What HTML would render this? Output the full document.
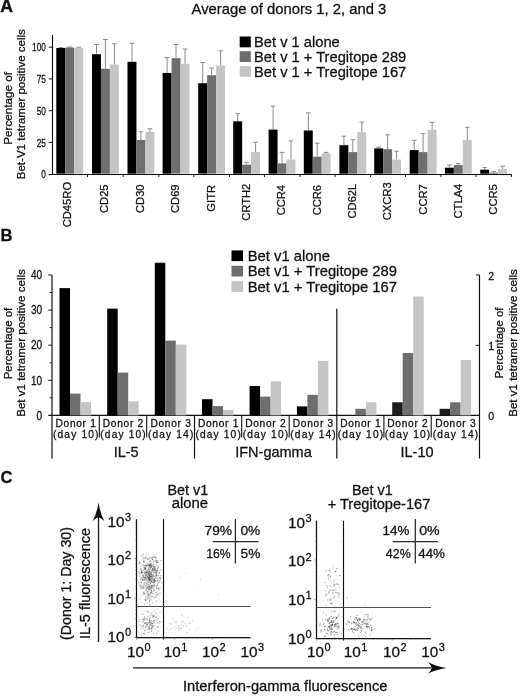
<!DOCTYPE html>
<html><head><meta charset="utf-8"><title>Figure</title>
<style>
html,body{margin:0;padding:0;background:#fff;}
body{width:520px;height:696px;overflow:hidden;font-family:"Liberation Sans",sans-serif;}
svg{display:block}
text{fill:#111;font-family:"Liberation Sans",sans-serif;stroke:#111;stroke-width:0.28px}
svg{will-change:transform;opacity:0.999}
</style></head><body>
<svg width="520" height="696" viewBox="0 0 520 696">
<rect width="520" height="696" fill="#fff"/>
<!-- Panel A -->
<text x="0.2" y="12.3"  font-size="17.6" font-weight="bold" stroke-width="0.1">A</text>
<text x="191.6" y="13.6"  font-size="14.8">Average of donors 1, 2, and 3</text>
<rect x="239.7" y="36.5" width="11.1" height="10.8" fill="#000000"/>
<text x="254" y="46.7"  font-size="14.7">Bet v 1 alone</text>
<rect x="239.7" y="51.2" width="11.1" height="10.8" fill="#6e6e6e"/>
<text x="254" y="61.9"  font-size="14.7">Bet v 1 + Tregitope 289</text>
<rect x="239.7" y="66.0" width="11.1" height="10.8" fill="#c5c5c5"/>
<text x="254" y="77.0"  font-size="14.7">Bet v 1 + Tregitope 167</text>
<line x1="52.5" y1="35" x2="52.5" y2="175.0" stroke="#111" stroke-width="1.15"/>
<line x1="48.6" y1="174.5" x2="511.5" y2="174.5" stroke="#111" stroke-width="1.05"/>
<line x1="48.8" y1="47.2" x2="52.5" y2="47.2" stroke="#111" stroke-width="1"/>
<text transform="translate(45.9,51.3) scale(0.72,1)" text-anchor="end"  font-size="11.5">100</text>
<line x1="48.8" y1="78.9" x2="52.5" y2="78.9" stroke="#111" stroke-width="1"/>
<text transform="translate(45.9,83.0) scale(0.72,1)" text-anchor="end"  font-size="11.5">75</text>
<line x1="48.8" y1="110.7" x2="52.5" y2="110.7" stroke="#111" stroke-width="1"/>
<text transform="translate(45.9,114.8) scale(0.72,1)" text-anchor="end"  font-size="11.5">50</text>
<line x1="48.8" y1="142.4" x2="52.5" y2="142.4" stroke="#111" stroke-width="1"/>
<text transform="translate(45.9,146.5) scale(0.72,1)" text-anchor="end"  font-size="11.5">25</text>
<text transform="translate(45.9,178.3) scale(0.72,1)" text-anchor="end"  font-size="11.5">0</text>
<text transform="translate(11.6,108.3) rotate(-90)" text-anchor="middle"  font-size="11.7">Percentage of</text>
<text transform="translate(25,104.2) rotate(-90)" text-anchor="middle"  font-size="11.55">Bet-V1 tetramer positive cells</text>
<path d="M60.8 48.0V47.6M58.5 47.6H63.1" stroke="#8a8a8a" stroke-width="1" fill="none"/>
<rect x="56.30" y="48.0" width="8.95" height="125.7" fill="#000000"/>
<path d="M69.7 47.5V47.0M67.4 47.0H72.0" stroke="#8a8a8a" stroke-width="1" fill="none"/>
<rect x="65.25" y="47.5" width="8.95" height="126.2" fill="#6e6e6e"/>
<path d="M78.7 47.8V47.2M76.4 47.2H81.0" stroke="#8a8a8a" stroke-width="1" fill="none"/>
<rect x="74.20" y="47.8" width="8.95" height="125.9" fill="#c5c5c5"/>
<line x1="87.5" y1="174.2" x2="87.5" y2="177" stroke="#111" stroke-width="1"/>
<text transform="translate(71.0,181.9) rotate(-90)" text-anchor="end"  font-size="11.2">CD45RO</text>
<path d="M96.5 54.2V44.5M94.2 44.5H98.8" stroke="#8a8a8a" stroke-width="1" fill="none"/>
<rect x="92.00" y="54.2" width="8.95" height="119.4" fill="#000000"/>
<path d="M105.4 68.8V39.5M103.1 39.5H107.7" stroke="#8a8a8a" stroke-width="1" fill="none"/>
<rect x="100.95" y="68.8" width="8.95" height="104.9" fill="#6e6e6e"/>
<path d="M114.4 64.5V43.8M112.1 43.8H116.7" stroke="#8a8a8a" stroke-width="1" fill="none"/>
<rect x="109.90" y="64.5" width="8.95" height="109.2" fill="#c5c5c5"/>
<line x1="123.2" y1="174.2" x2="123.2" y2="177" stroke="#111" stroke-width="1"/>
<text transform="translate(108.4,184.4) rotate(-90)" text-anchor="end"  font-size="11.2">CD25</text>
<path d="M132.0 61.8V43.2M129.7 43.2H134.3" stroke="#8a8a8a" stroke-width="1" fill="none"/>
<rect x="127.50" y="61.8" width="8.95" height="111.9" fill="#000000"/>
<path d="M140.9 140.0V131.8M138.6 131.8H143.2" stroke="#8a8a8a" stroke-width="1" fill="none"/>
<rect x="136.45" y="140.0" width="8.95" height="33.7" fill="#6e6e6e"/>
<path d="M149.9 132.0V128.8M147.6 128.8H152.2" stroke="#8a8a8a" stroke-width="1" fill="none"/>
<rect x="145.40" y="132.0" width="8.95" height="41.7" fill="#c5c5c5"/>
<line x1="158.8" y1="174.2" x2="158.8" y2="177" stroke="#111" stroke-width="1"/>
<text transform="translate(143.9,184.4) rotate(-90)" text-anchor="end"  font-size="11.2">CD30</text>
<path d="M167.1 73.0V57.5M164.8 57.5H169.4" stroke="#8a8a8a" stroke-width="1" fill="none"/>
<rect x="162.60" y="73.0" width="8.95" height="100.7" fill="#000000"/>
<path d="M176.0 58.2V44.5M173.7 44.5H178.3" stroke="#8a8a8a" stroke-width="1" fill="none"/>
<rect x="171.55" y="58.2" width="8.95" height="115.4" fill="#6e6e6e"/>
<path d="M185.0 63.8V49.0M182.7 49.0H187.3" stroke="#8a8a8a" stroke-width="1" fill="none"/>
<rect x="180.50" y="63.8" width="8.95" height="109.9" fill="#c5c5c5"/>
<line x1="193.8" y1="174.2" x2="193.8" y2="177" stroke="#111" stroke-width="1"/>
<text transform="translate(179.0,184.4) rotate(-90)" text-anchor="end"  font-size="11.2">CD69</text>
<path d="M202.7 83.2V62.5M200.4 62.5H205.0" stroke="#8a8a8a" stroke-width="1" fill="none"/>
<rect x="198.20" y="83.2" width="8.95" height="90.4" fill="#000000"/>
<path d="M211.6 75.2V68.0M209.3 68.0H213.9" stroke="#8a8a8a" stroke-width="1" fill="none"/>
<rect x="207.15" y="75.2" width="8.95" height="98.4" fill="#6e6e6e"/>
<path d="M220.6 65.5V50.8M218.3 50.8H222.9" stroke="#8a8a8a" stroke-width="1" fill="none"/>
<rect x="216.10" y="65.5" width="8.95" height="108.2" fill="#c5c5c5"/>
<line x1="229.4" y1="174.2" x2="229.4" y2="177" stroke="#111" stroke-width="1"/>
<text transform="translate(214.5,184.9) rotate(-90)" text-anchor="end"  font-size="11.2">GITR</text>
<path d="M237.7 121.3V113.6M235.4 113.6H240.0" stroke="#8a8a8a" stroke-width="1" fill="none"/>
<rect x="233.20" y="121.3" width="8.95" height="52.4" fill="#000000"/>
<path d="M246.6 164.7V162.3M244.3 162.3H248.9" stroke="#8a8a8a" stroke-width="1" fill="none"/>
<rect x="242.15" y="164.7" width="8.95" height="9.0" fill="#6e6e6e"/>
<path d="M255.6 152.1V142.3M253.3 142.3H257.9" stroke="#8a8a8a" stroke-width="1" fill="none"/>
<rect x="251.10" y="152.1" width="8.95" height="21.6" fill="#c5c5c5"/>
<line x1="264.4" y1="174.2" x2="264.4" y2="177" stroke="#111" stroke-width="1"/>
<text transform="translate(249.5,183.7) rotate(-90)" text-anchor="end"  font-size="11.2">CRTH2</text>
<path d="M273.1 129.6V106.2M270.8 106.2H275.4" stroke="#8a8a8a" stroke-width="1" fill="none"/>
<rect x="268.60" y="129.6" width="8.95" height="44.1" fill="#000000"/>
<path d="M282.0 163.4V152.4M279.7 152.4H284.3" stroke="#8a8a8a" stroke-width="1" fill="none"/>
<rect x="277.55" y="163.4" width="8.95" height="10.3" fill="#6e6e6e"/>
<path d="M291.0 159.6V140.9M288.7 140.9H293.3" stroke="#8a8a8a" stroke-width="1" fill="none"/>
<rect x="286.50" y="159.6" width="8.95" height="14.1" fill="#c5c5c5"/>
<line x1="299.9" y1="174.2" x2="299.9" y2="177" stroke="#111" stroke-width="1"/>
<text transform="translate(284.5,184.9) rotate(-90)" text-anchor="end"  font-size="11.2">CCR4</text>
<path d="M308.3 130.5V112.9M306.0 112.9H310.6" stroke="#8a8a8a" stroke-width="1" fill="none"/>
<rect x="303.80" y="130.5" width="8.95" height="43.2" fill="#000000"/>
<path d="M317.2 156.7V143.2M314.9 143.2H319.5" stroke="#8a8a8a" stroke-width="1" fill="none"/>
<rect x="312.75" y="156.7" width="8.95" height="17.0" fill="#6e6e6e"/>
<path d="M326.2 153.3V152.4M323.9 152.4H328.5" stroke="#8a8a8a" stroke-width="1" fill="none"/>
<rect x="321.70" y="153.3" width="8.95" height="20.4" fill="#c5c5c5"/>
<line x1="335.1" y1="174.2" x2="335.1" y2="177" stroke="#111" stroke-width="1"/>
<text transform="translate(320.6,184.9) rotate(-90)" text-anchor="end"  font-size="11.2">CCR6</text>
<path d="M343.9 145.2V136.2M341.6 136.2H346.2" stroke="#8a8a8a" stroke-width="1" fill="none"/>
<rect x="339.40" y="145.2" width="8.95" height="28.5" fill="#000000"/>
<path d="M352.8 152.1V139.7M350.5 139.7H355.1" stroke="#8a8a8a" stroke-width="1" fill="none"/>
<rect x="348.35" y="152.1" width="8.95" height="21.6" fill="#6e6e6e"/>
<path d="M361.8 132.2V122.1M359.5 122.1H364.1" stroke="#8a8a8a" stroke-width="1" fill="none"/>
<rect x="357.30" y="132.2" width="8.95" height="41.5" fill="#c5c5c5"/>
<line x1="370.6" y1="174.2" x2="370.6" y2="177" stroke="#111" stroke-width="1"/>
<text transform="translate(355.9,183.7) rotate(-90)" text-anchor="end"  font-size="11.2">CD62L</text>
<path d="M378.7 148.4V147.2M376.4 147.2H381.0" stroke="#8a8a8a" stroke-width="1" fill="none"/>
<rect x="374.20" y="148.4" width="8.95" height="25.3" fill="#000000"/>
<path d="M387.6 149.2V134.8M385.3 134.8H389.9" stroke="#8a8a8a" stroke-width="1" fill="none"/>
<rect x="383.15" y="149.2" width="8.95" height="24.5" fill="#6e6e6e"/>
<path d="M396.6 159.6V151.2M394.3 151.2H398.9" stroke="#8a8a8a" stroke-width="1" fill="none"/>
<rect x="392.10" y="159.6" width="8.95" height="14.1" fill="#c5c5c5"/>
<line x1="405.4" y1="174.2" x2="405.4" y2="177" stroke="#111" stroke-width="1"/>
<text transform="translate(391.1,182.4) rotate(-90)" text-anchor="end"  font-size="11.2">CXCR3</text>
<path d="M414.2 150.1V140.3M411.9 140.3H416.5" stroke="#8a8a8a" stroke-width="1" fill="none"/>
<rect x="409.70" y="150.1" width="8.95" height="23.6" fill="#000000"/>
<path d="M423.1 152.1V133.6M420.8 133.6H425.4" stroke="#8a8a8a" stroke-width="1" fill="none"/>
<rect x="418.65" y="152.1" width="8.95" height="21.6" fill="#6e6e6e"/>
<path d="M432.1 129.6V122.4M429.8 122.4H434.4" stroke="#8a8a8a" stroke-width="1" fill="none"/>
<rect x="427.60" y="129.6" width="8.95" height="44.1" fill="#c5c5c5"/>
<line x1="440.9" y1="174.2" x2="440.9" y2="177" stroke="#111" stroke-width="1"/>
<text transform="translate(426.5,184.2) rotate(-90)" text-anchor="end"  font-size="11.2">CCR7</text>
<path d="M449.4 167.7V165.0M447.1 165.0H451.7" stroke="#8a8a8a" stroke-width="1" fill="none"/>
<rect x="444.90" y="167.7" width="8.95" height="6.0" fill="#000000"/>
<path d="M458.3 165.1V163.6M456.0 163.6H460.6" stroke="#8a8a8a" stroke-width="1" fill="none"/>
<rect x="453.85" y="165.1" width="8.95" height="8.6" fill="#6e6e6e"/>
<path d="M467.3 140.0V127.3M465.0 127.3H469.6" stroke="#8a8a8a" stroke-width="1" fill="none"/>
<rect x="462.80" y="140.0" width="8.95" height="33.7" fill="#c5c5c5"/>
<line x1="476.1" y1="174.2" x2="476.1" y2="177" stroke="#111" stroke-width="1"/>
<text transform="translate(461.7,183.7) rotate(-90)" text-anchor="end"  font-size="11.2">CTLA4</text>
<path d="M484.7 169.7V167.4M482.4 167.4H487.0" stroke="#8a8a8a" stroke-width="1" fill="none"/>
<rect x="480.20" y="169.7" width="8.95" height="4.0" fill="#000000"/>
<path d="M493.6 172.6V171.6M491.3 171.6H495.9" stroke="#8a8a8a" stroke-width="1" fill="none"/>
<rect x="489.15" y="172.6" width="8.95" height="1.1" fill="#6e6e6e"/>
<path d="M502.6 169.1V166.2M500.3 166.2H504.9" stroke="#8a8a8a" stroke-width="1" fill="none"/>
<rect x="498.10" y="169.1" width="8.95" height="4.6" fill="#c5c5c5"/>
<line x1="511.4" y1="174.2" x2="511.4" y2="177" stroke="#111" stroke-width="1"/>
<text transform="translate(496.6,184.2) rotate(-90)" text-anchor="end"  font-size="11.2">CCR5</text>
<!-- Panel B -->
<text x="0.6" y="241"  font-size="16.6" font-weight="bold" stroke-width="0.1">B</text>
<rect x="231.5" y="250.4" width="11.5" height="10.7" fill="#000000"/>
<text x="247.7" y="260.5"  font-size="14.8">Bet v1 alone</text>
<rect x="231.5" y="265.8" width="11.5" height="10.7" fill="#6e6e6e"/>
<text x="247.7" y="276.1"  font-size="14.8">Bet v1 + Tregitope 289</text>
<rect x="231.5" y="281.2" width="11.5" height="10.7" fill="#c5c5c5"/>
<text x="247.7" y="291.7"  font-size="14.8">Bet v1 + Tregitope 167</text>
<line x1="52" y1="275" x2="52" y2="458.5" stroke="#111" stroke-width="1.2"/>
<text transform="translate(42.2,419.6) scale(0.8,1)" text-anchor="end"  font-size="12.6">0</text>
<line x1="49.8" y1="397.8" x2="52" y2="397.8" stroke="#111" stroke-width="1"/>
<line x1="48.3" y1="380.3" x2="52" y2="380.3" stroke="#111" stroke-width="1"/>
<text transform="translate(42.2,384.5) scale(0.8,1)" text-anchor="end"  font-size="12.6">10</text>
<line x1="49.8" y1="362.8" x2="52" y2="362.8" stroke="#111" stroke-width="1"/>
<line x1="48.3" y1="345.2" x2="52" y2="345.2" stroke="#111" stroke-width="1"/>
<text transform="translate(42.2,349.4) scale(0.8,1)" text-anchor="end"  font-size="12.6">20</text>
<line x1="49.8" y1="327.6" x2="52" y2="327.6" stroke="#111" stroke-width="1"/>
<line x1="48.3" y1="310.1" x2="52" y2="310.1" stroke="#111" stroke-width="1"/>
<text transform="translate(42.2,314.3) scale(0.8,1)" text-anchor="end"  font-size="12.6">30</text>
<line x1="49.8" y1="292.5" x2="52" y2="292.5" stroke="#111" stroke-width="1"/>
<line x1="48.3" y1="275.0" x2="52" y2="275.0" stroke="#111" stroke-width="1"/>
<text transform="translate(42.2,279.2) scale(0.8,1)" text-anchor="end"  font-size="12.6">40</text>
<text transform="translate(11.8,343.5) rotate(-90)" text-anchor="middle"  font-size="11.5">Percentage of</text>
<text transform="translate(24.8,343) rotate(-90)" text-anchor="middle"  font-size="11.55">Bet v1 tetramer positive cells</text>
<line x1="48.3" y1="415.4" x2="479.5" y2="415.4" stroke="#111" stroke-width="1.2"/>
<line x1="479.5" y1="275" x2="479.5" y2="458.5" stroke="#111" stroke-width="1.2"/>
<line x1="475.8" y1="275" x2="479.5" y2="275" stroke="#111" stroke-width="1"/>
<line x1="475.8" y1="345.3" x2="479.5" y2="345.3" stroke="#111" stroke-width="1"/>
<text x="488.3" y="279.9"  font-size="10.6" stroke-width="0.1">2</text>
<text x="488.3" y="350.2"  font-size="10.6" stroke-width="0.1">1</text>
<text x="488.3" y="420.3"  font-size="10.6" stroke-width="0.1">0</text>
<text transform="translate(502.6,343) rotate(-90)" text-anchor="middle"  font-size="11.4">Percentage of</text>
<text transform="translate(516.8,343) rotate(-90)" text-anchor="middle"  font-size="11.55">Bet v1 tetramer positive cells</text>
<line x1="194.5" y1="415" x2="194.5" y2="458.5" stroke="#111" stroke-width="1.2"/>
<line x1="336.8" y1="308.8" x2="336.8" y2="458.5" stroke="#111" stroke-width="1.2"/>
<line x1="99.3" y1="415.4" x2="99.3" y2="437.5" stroke="#111" stroke-width="1.1"/>
<line x1="146.7" y1="415.4" x2="146.7" y2="437.5" stroke="#111" stroke-width="1.1"/>
<line x1="241.7" y1="415.4" x2="241.7" y2="437.5" stroke="#111" stroke-width="1.1"/>
<line x1="289.2" y1="415.4" x2="289.2" y2="437.5" stroke="#111" stroke-width="1.1"/>
<line x1="383.9" y1="415.4" x2="383.9" y2="437.5" stroke="#111" stroke-width="1.1"/>
<line x1="431.2" y1="415.4" x2="431.2" y2="437.5" stroke="#111" stroke-width="1.1"/>
<rect x="59.50" y="288.1" width="10.5" height="127.3" fill="#000000"/>
<rect x="70.00" y="393.6" width="10.5" height="21.8" fill="#6e6e6e"/>
<rect x="80.50" y="402.0" width="10.5" height="13.4" fill="#c5c5c5"/>
<rect x="107.20" y="308.6" width="10.5" height="106.8" fill="#000000"/>
<rect x="117.70" y="372.6" width="10.5" height="42.8" fill="#6e6e6e"/>
<rect x="128.20" y="401.4" width="10.5" height="14.0" fill="#c5c5c5"/>
<rect x="154.80" y="262.7" width="10.5" height="152.7" fill="#000000"/>
<rect x="165.30" y="340.6" width="10.5" height="74.8" fill="#6e6e6e"/>
<rect x="175.80" y="344.6" width="10.5" height="70.8" fill="#c5c5c5"/>
<rect x="202.00" y="399.2" width="10.5" height="16.2" fill="#000000"/>
<rect x="212.50" y="406.1" width="10.5" height="9.3" fill="#6e6e6e"/>
<rect x="223.00" y="409.9" width="10.5" height="5.5" fill="#c5c5c5"/>
<rect x="249.60" y="386.0" width="10.5" height="29.4" fill="#000000"/>
<rect x="260.10" y="396.6" width="10.5" height="18.8" fill="#6e6e6e"/>
<rect x="270.60" y="381.3" width="10.5" height="34.1" fill="#c5c5c5"/>
<rect x="296.90" y="406.4" width="10.5" height="9.0" fill="#000000"/>
<rect x="307.40" y="394.9" width="10.5" height="20.5" fill="#6e6e6e"/>
<rect x="317.90" y="360.9" width="10.5" height="54.5" fill="#c5c5c5"/>
<rect x="355.40" y="408.8" width="10.5" height="6.6" fill="#6e6e6e"/>
<rect x="365.90" y="402.3" width="10.5" height="13.1" fill="#c5c5c5"/>
<rect x="392.20" y="402.3" width="10.5" height="13.1" fill="#1c1c1c"/>
<rect x="402.70" y="353.0" width="10.5" height="62.4" fill="#6e6e6e"/>
<rect x="413.20" y="296.5" width="10.5" height="118.9" fill="#c5c5c5"/>
<rect x="439.60" y="408.8" width="10.5" height="6.6" fill="#1c1c1c"/>
<rect x="450.10" y="402.3" width="10.5" height="13.1" fill="#6e6e6e"/>
<rect x="460.60" y="360.0" width="10.5" height="55.4" fill="#c5c5c5"/>
<text x="75.7" y="427" text-anchor="middle"  font-size="10.2" textLength="40.4" lengthAdjust="spacing" stroke="none">Donor 1</text>
<text x="75.7" y="438.2" text-anchor="middle"  font-size="10.2" textLength="45.4" lengthAdjust="spacing" stroke="none">(day 10)</text>
<text x="123.0" y="427" text-anchor="middle"  font-size="10.2" textLength="40.4" lengthAdjust="spacing" stroke="none">Donor 2</text>
<text x="123.0" y="438.2" text-anchor="middle"  font-size="10.2" textLength="45.4" lengthAdjust="spacing" stroke="none">(day 10)</text>
<text x="170.6" y="427" text-anchor="middle"  font-size="10.2" textLength="40.4" lengthAdjust="spacing" stroke="none">Donor 3</text>
<text x="170.6" y="438.2" text-anchor="middle"  font-size="10.2" textLength="45.4" lengthAdjust="spacing" stroke="none">(day 14)</text>
<text x="218.1" y="427" text-anchor="middle"  font-size="10.2" textLength="40.4" lengthAdjust="spacing" stroke="none">Donor 1</text>
<text x="218.1" y="438.2" text-anchor="middle"  font-size="10.2" textLength="45.4" lengthAdjust="spacing" stroke="none">(day 10)</text>
<text x="265.4" y="427" text-anchor="middle"  font-size="10.2" textLength="40.4" lengthAdjust="spacing" stroke="none">Donor 2</text>
<text x="265.4" y="438.2" text-anchor="middle"  font-size="10.2" textLength="45.4" lengthAdjust="spacing" stroke="none">(day 10)</text>
<text x="313.0" y="427" text-anchor="middle"  font-size="10.2" textLength="40.4" lengthAdjust="spacing" stroke="none">Donor 3</text>
<text x="313.0" y="438.2" text-anchor="middle"  font-size="10.2" textLength="45.4" lengthAdjust="spacing" stroke="none">(day 14)</text>
<text x="360.4" y="427" text-anchor="middle"  font-size="10.2" textLength="40.4" lengthAdjust="spacing" stroke="none">Donor 1</text>
<text x="360.4" y="438.2" text-anchor="middle"  font-size="10.2" textLength="45.4" lengthAdjust="spacing" stroke="none">(day 10)</text>
<text x="407.5" y="427" text-anchor="middle"  font-size="10.2" textLength="40.4" lengthAdjust="spacing" stroke="none">Donor 2</text>
<text x="407.5" y="438.2" text-anchor="middle"  font-size="10.2" textLength="45.4" lengthAdjust="spacing" stroke="none">(day 10)</text>
<text x="455.4" y="427" text-anchor="middle"  font-size="10.2" textLength="40.4" lengthAdjust="spacing" stroke="none">Donor 3</text>
<text x="455.4" y="438.2" text-anchor="middle"  font-size="10.2" textLength="45.4" lengthAdjust="spacing" stroke="none">(day 14)</text>
<text x="126.2" y="456.8" text-anchor="middle"  font-size="14.5">IL-5</text>
<text x="273.5" y="456.8" text-anchor="middle"  font-size="14.5">IFN-gamma</text>
<text x="417" y="456.8" text-anchor="middle"  font-size="14.5">IL-10</text>
<!-- Panel C -->
<text x="0.5" y="483"  font-size="16.6" font-weight="bold" stroke-width="0.1">C</text>
<line x1="98.5" y1="642" x2="98.5" y2="516" stroke="#1a1a1a" stroke-width="1.3"/>
<path d="M98.5 502.3 Q100 513 104.3 520.9 Q101 518 98.5 517.3 Q96 518 92.7 520.9 Q97 513 98.5 502.3 Z" fill="#111"/>
<line x1="133" y1="667.9" x2="431" y2="667.9" stroke="#1a1a1a" stroke-width="1.4"/>
<path d="M446.4 667.9 Q436 666.4 428 662 Q431 665 431.6 667.9 Q431 670.8 428 673.6 Q436 669.4 446.4 667.9 Z" fill="#111"/>
<text transform="translate(71.3,583.5) rotate(-90)" text-anchor="middle"  font-size="14.2">(Donor 1: Day 30)</text>
<text transform="translate(89.6,583.5) rotate(-90)" text-anchor="middle"  font-size="14.5">IL-5 fluorescence</text>
<text x="183" y="690.8"  font-size="14.73">Interferon-gamma fluorescence</text>
<line x1="136.5" y1="519.2" x2="136.5" y2="638.1" stroke="#111" stroke-width="1.25"/>
<line x1="136.5" y1="637.5" x2="250.5" y2="637.5" stroke="#111" stroke-width="1.25"/>
<line x1="163.5" y1="519.2" x2="163.5" y2="639.5" stroke="#111" stroke-width="1.15"/>
<line x1="136.5" y1="606.5" x2="250.5" y2="606.5" stroke="#505050" stroke-width="1.05"/>
<line x1="134.3" y1="637.5" x2="136.5" y2="637.5" stroke="#555" stroke-width="0.5"/>
<line x1="136.5" y1="637.5" x2="136.5" y2="639.7" stroke="#555" stroke-width="0.5"/>
<line x1="135.3" y1="625.6" x2="136.5" y2="625.6" stroke="#555" stroke-width="0.5"/>
<line x1="147.9" y1="637.5" x2="147.9" y2="638.7" stroke="#555" stroke-width="0.5"/>
<line x1="135.3" y1="618.7" x2="136.5" y2="618.7" stroke="#555" stroke-width="0.5"/>
<line x1="154.6" y1="637.5" x2="154.6" y2="638.7" stroke="#555" stroke-width="0.5"/>
<line x1="135.3" y1="613.8" x2="136.5" y2="613.8" stroke="#555" stroke-width="0.5"/>
<line x1="159.4" y1="637.5" x2="159.4" y2="638.7" stroke="#555" stroke-width="0.5"/>
<line x1="135.3" y1="609.9" x2="136.5" y2="609.9" stroke="#555" stroke-width="0.5"/>
<line x1="163.1" y1="637.5" x2="163.1" y2="638.7" stroke="#555" stroke-width="0.5"/>
<line x1="135.3" y1="606.8" x2="136.5" y2="606.8" stroke="#555" stroke-width="0.5"/>
<line x1="166.1" y1="637.5" x2="166.1" y2="638.7" stroke="#555" stroke-width="0.5"/>
<line x1="135.3" y1="604.2" x2="136.5" y2="604.2" stroke="#555" stroke-width="0.5"/>
<line x1="168.6" y1="637.5" x2="168.6" y2="638.7" stroke="#555" stroke-width="0.5"/>
<line x1="135.3" y1="601.9" x2="136.5" y2="601.9" stroke="#555" stroke-width="0.5"/>
<line x1="170.8" y1="637.5" x2="170.8" y2="638.7" stroke="#555" stroke-width="0.5"/>
<line x1="135.3" y1="599.9" x2="136.5" y2="599.9" stroke="#555" stroke-width="0.5"/>
<line x1="172.8" y1="637.5" x2="172.8" y2="638.7" stroke="#555" stroke-width="0.5"/>
<line x1="134.3" y1="598.1" x2="136.5" y2="598.1" stroke="#555" stroke-width="0.5"/>
<line x1="174.5" y1="637.5" x2="174.5" y2="639.7" stroke="#555" stroke-width="0.5"/>
<line x1="135.3" y1="586.2" x2="136.5" y2="586.2" stroke="#555" stroke-width="0.5"/>
<line x1="185.9" y1="637.5" x2="185.9" y2="638.7" stroke="#555" stroke-width="0.5"/>
<line x1="135.3" y1="579.3" x2="136.5" y2="579.3" stroke="#555" stroke-width="0.5"/>
<line x1="192.6" y1="637.5" x2="192.6" y2="638.7" stroke="#555" stroke-width="0.5"/>
<line x1="135.3" y1="574.3" x2="136.5" y2="574.3" stroke="#555" stroke-width="0.5"/>
<line x1="197.4" y1="637.5" x2="197.4" y2="638.7" stroke="#555" stroke-width="0.5"/>
<line x1="135.3" y1="570.5" x2="136.5" y2="570.5" stroke="#555" stroke-width="0.5"/>
<line x1="201.1" y1="637.5" x2="201.1" y2="638.7" stroke="#555" stroke-width="0.5"/>
<line x1="135.3" y1="567.4" x2="136.5" y2="567.4" stroke="#555" stroke-width="0.5"/>
<line x1="204.1" y1="637.5" x2="204.1" y2="638.7" stroke="#555" stroke-width="0.5"/>
<line x1="135.3" y1="564.7" x2="136.5" y2="564.7" stroke="#555" stroke-width="0.5"/>
<line x1="206.6" y1="637.5" x2="206.6" y2="638.7" stroke="#555" stroke-width="0.5"/>
<line x1="135.3" y1="562.5" x2="136.5" y2="562.5" stroke="#555" stroke-width="0.5"/>
<line x1="208.8" y1="637.5" x2="208.8" y2="638.7" stroke="#555" stroke-width="0.5"/>
<line x1="135.3" y1="560.4" x2="136.5" y2="560.4" stroke="#555" stroke-width="0.5"/>
<line x1="210.8" y1="637.5" x2="210.8" y2="638.7" stroke="#555" stroke-width="0.5"/>
<line x1="134.3" y1="558.6" x2="136.5" y2="558.6" stroke="#555" stroke-width="0.5"/>
<line x1="212.5" y1="637.5" x2="212.5" y2="639.7" stroke="#555" stroke-width="0.5"/>
<line x1="135.3" y1="546.8" x2="136.5" y2="546.8" stroke="#555" stroke-width="0.5"/>
<line x1="223.9" y1="637.5" x2="223.9" y2="638.7" stroke="#555" stroke-width="0.5"/>
<line x1="135.3" y1="539.8" x2="136.5" y2="539.8" stroke="#555" stroke-width="0.5"/>
<line x1="230.6" y1="637.5" x2="230.6" y2="638.7" stroke="#555" stroke-width="0.5"/>
<line x1="135.3" y1="534.9" x2="136.5" y2="534.9" stroke="#555" stroke-width="0.5"/>
<line x1="235.4" y1="637.5" x2="235.4" y2="638.7" stroke="#555" stroke-width="0.5"/>
<line x1="135.3" y1="531.1" x2="136.5" y2="531.1" stroke="#555" stroke-width="0.5"/>
<line x1="239.1" y1="637.5" x2="239.1" y2="638.7" stroke="#555" stroke-width="0.5"/>
<line x1="135.3" y1="527.9" x2="136.5" y2="527.9" stroke="#555" stroke-width="0.5"/>
<line x1="242.1" y1="637.5" x2="242.1" y2="638.7" stroke="#555" stroke-width="0.5"/>
<line x1="135.3" y1="525.3" x2="136.5" y2="525.3" stroke="#555" stroke-width="0.5"/>
<line x1="244.6" y1="637.5" x2="244.6" y2="638.7" stroke="#555" stroke-width="0.5"/>
<line x1="135.3" y1="523.0" x2="136.5" y2="523.0" stroke="#555" stroke-width="0.5"/>
<line x1="246.8" y1="637.5" x2="246.8" y2="638.7" stroke="#555" stroke-width="0.5"/>
<line x1="135.3" y1="521.0" x2="136.5" y2="521.0" stroke="#555" stroke-width="0.5"/>
<line x1="248.8" y1="637.5" x2="248.8" y2="638.7" stroke="#555" stroke-width="0.5"/>
<text x="107.4" y="526.6"  font-size="15.3">10<tspan dy="-5.9" dx="0.5" font-size="11">3</tspan></text>
<text x="107.4" y="565.0"  font-size="15.3">10<tspan dy="-5.9" dx="0.5" font-size="11">2</tspan></text>
<text x="107.4" y="603.6"  font-size="15.3">10<tspan dy="-5.9" dx="0.5" font-size="11">1</tspan></text>
<text x="107.4" y="642.0"  font-size="15.3">10<tspan dy="-5.9" dx="0.5" font-size="11">0</tspan></text>
<text x="126.9" y="656.9"  font-size="15.3">10<tspan dy="-5.9" dx="0.5" font-size="11">0</tspan></text>
<text x="163.8" y="656.9"  font-size="15.3">10<tspan dy="-5.9" dx="0.5" font-size="11">1</tspan></text>
<text x="202.0" y="656.9"  font-size="15.3">10<tspan dy="-5.9" dx="0.5" font-size="11">2</tspan></text>
<text x="240.4" y="656.9"  font-size="15.3">10<tspan dy="-5.9" dx="0.5" font-size="11">3</tspan></text>
<line x1="316.5" y1="520.8" x2="316.5" y2="639.1" stroke="#111" stroke-width="1.25"/>
<line x1="316.5" y1="638.5" x2="431" y2="638.5" stroke="#111" stroke-width="1.25"/>
<line x1="343.5" y1="520.8" x2="343.5" y2="640.5" stroke="#111" stroke-width="1.15"/>
<line x1="316.5" y1="607.5" x2="431" y2="607.5" stroke="#505050" stroke-width="1.05"/>
<line x1="314.3" y1="638.5" x2="316.5" y2="638.5" stroke="#555" stroke-width="0.5"/>
<line x1="316.5" y1="638.5" x2="316.5" y2="640.7" stroke="#555" stroke-width="0.5"/>
<line x1="315.3" y1="626.7" x2="316.5" y2="626.7" stroke="#555" stroke-width="0.5"/>
<line x1="328.0" y1="638.5" x2="328.0" y2="639.7" stroke="#555" stroke-width="0.5"/>
<line x1="315.3" y1="619.8" x2="316.5" y2="619.8" stroke="#555" stroke-width="0.5"/>
<line x1="334.7" y1="638.5" x2="334.7" y2="639.7" stroke="#555" stroke-width="0.5"/>
<line x1="315.3" y1="614.9" x2="316.5" y2="614.9" stroke="#555" stroke-width="0.5"/>
<line x1="339.5" y1="638.5" x2="339.5" y2="639.7" stroke="#555" stroke-width="0.5"/>
<line x1="315.3" y1="611.1" x2="316.5" y2="611.1" stroke="#555" stroke-width="0.5"/>
<line x1="343.2" y1="638.5" x2="343.2" y2="639.7" stroke="#555" stroke-width="0.5"/>
<line x1="315.3" y1="608.0" x2="316.5" y2="608.0" stroke="#555" stroke-width="0.5"/>
<line x1="346.2" y1="638.5" x2="346.2" y2="639.7" stroke="#555" stroke-width="0.5"/>
<line x1="315.3" y1="605.3" x2="316.5" y2="605.3" stroke="#555" stroke-width="0.5"/>
<line x1="348.8" y1="638.5" x2="348.8" y2="639.7" stroke="#555" stroke-width="0.5"/>
<line x1="315.3" y1="603.1" x2="316.5" y2="603.1" stroke="#555" stroke-width="0.5"/>
<line x1="351.0" y1="638.5" x2="351.0" y2="639.7" stroke="#555" stroke-width="0.5"/>
<line x1="315.3" y1="601.1" x2="316.5" y2="601.1" stroke="#555" stroke-width="0.5"/>
<line x1="352.9" y1="638.5" x2="352.9" y2="639.7" stroke="#555" stroke-width="0.5"/>
<line x1="314.3" y1="599.3" x2="316.5" y2="599.3" stroke="#555" stroke-width="0.5"/>
<line x1="354.7" y1="638.5" x2="354.7" y2="640.7" stroke="#555" stroke-width="0.5"/>
<line x1="315.3" y1="587.5" x2="316.5" y2="587.5" stroke="#555" stroke-width="0.5"/>
<line x1="366.2" y1="638.5" x2="366.2" y2="639.7" stroke="#555" stroke-width="0.5"/>
<line x1="315.3" y1="580.5" x2="316.5" y2="580.5" stroke="#555" stroke-width="0.5"/>
<line x1="372.9" y1="638.5" x2="372.9" y2="639.7" stroke="#555" stroke-width="0.5"/>
<line x1="315.3" y1="575.6" x2="316.5" y2="575.6" stroke="#555" stroke-width="0.5"/>
<line x1="377.6" y1="638.5" x2="377.6" y2="639.7" stroke="#555" stroke-width="0.5"/>
<line x1="315.3" y1="571.8" x2="316.5" y2="571.8" stroke="#555" stroke-width="0.5"/>
<line x1="381.3" y1="638.5" x2="381.3" y2="639.7" stroke="#555" stroke-width="0.5"/>
<line x1="315.3" y1="568.7" x2="316.5" y2="568.7" stroke="#555" stroke-width="0.5"/>
<line x1="384.4" y1="638.5" x2="384.4" y2="639.7" stroke="#555" stroke-width="0.5"/>
<line x1="315.3" y1="566.1" x2="316.5" y2="566.1" stroke="#555" stroke-width="0.5"/>
<line x1="386.9" y1="638.5" x2="386.9" y2="639.7" stroke="#555" stroke-width="0.5"/>
<line x1="315.3" y1="563.8" x2="316.5" y2="563.8" stroke="#555" stroke-width="0.5"/>
<line x1="389.1" y1="638.5" x2="389.1" y2="639.7" stroke="#555" stroke-width="0.5"/>
<line x1="315.3" y1="561.8" x2="316.5" y2="561.8" stroke="#555" stroke-width="0.5"/>
<line x1="391.1" y1="638.5" x2="391.1" y2="639.7" stroke="#555" stroke-width="0.5"/>
<line x1="314.3" y1="560.0" x2="316.5" y2="560.0" stroke="#555" stroke-width="0.5"/>
<line x1="392.8" y1="638.5" x2="392.8" y2="640.7" stroke="#555" stroke-width="0.5"/>
<line x1="315.3" y1="548.2" x2="316.5" y2="548.2" stroke="#555" stroke-width="0.5"/>
<line x1="404.3" y1="638.5" x2="404.3" y2="639.7" stroke="#555" stroke-width="0.5"/>
<line x1="315.3" y1="541.3" x2="316.5" y2="541.3" stroke="#555" stroke-width="0.5"/>
<line x1="411.0" y1="638.5" x2="411.0" y2="639.7" stroke="#555" stroke-width="0.5"/>
<line x1="315.3" y1="536.4" x2="316.5" y2="536.4" stroke="#555" stroke-width="0.5"/>
<line x1="415.8" y1="638.5" x2="415.8" y2="639.7" stroke="#555" stroke-width="0.5"/>
<line x1="315.3" y1="532.6" x2="316.5" y2="532.6" stroke="#555" stroke-width="0.5"/>
<line x1="419.5" y1="638.5" x2="419.5" y2="639.7" stroke="#555" stroke-width="0.5"/>
<line x1="315.3" y1="529.5" x2="316.5" y2="529.5" stroke="#555" stroke-width="0.5"/>
<line x1="422.5" y1="638.5" x2="422.5" y2="639.7" stroke="#555" stroke-width="0.5"/>
<line x1="315.3" y1="526.9" x2="316.5" y2="526.9" stroke="#555" stroke-width="0.5"/>
<line x1="425.1" y1="638.5" x2="425.1" y2="639.7" stroke="#555" stroke-width="0.5"/>
<line x1="315.3" y1="524.6" x2="316.5" y2="524.6" stroke="#555" stroke-width="0.5"/>
<line x1="427.3" y1="638.5" x2="427.3" y2="639.7" stroke="#555" stroke-width="0.5"/>
<line x1="315.3" y1="522.6" x2="316.5" y2="522.6" stroke="#555" stroke-width="0.5"/>
<line x1="429.3" y1="638.5" x2="429.3" y2="639.7" stroke="#555" stroke-width="0.5"/>
<text x="288.0" y="527.8"  font-size="15.3">10<tspan dy="-5.9" dx="0.5" font-size="11">3</tspan></text>
<text x="288.0" y="566.4"  font-size="15.3">10<tspan dy="-5.9" dx="0.5" font-size="11">2</tspan></text>
<text x="288.0" y="605.0"  font-size="15.3">10<tspan dy="-5.9" dx="0.5" font-size="11">1</tspan></text>
<text x="288.0" y="643.9"  font-size="15.3">10<tspan dy="-5.9" dx="0.5" font-size="11">0</tspan></text>
<text x="306.9" y="657.1"  font-size="15.3">10<tspan dy="-5.9" dx="0.5" font-size="11">0</tspan></text>
<text x="343.8" y="657.1"  font-size="15.3">10<tspan dy="-5.9" dx="0.5" font-size="11">1</tspan></text>
<text x="383.1" y="657.1"  font-size="15.3">10<tspan dy="-5.9" dx="0.5" font-size="11">2</tspan></text>
<text x="421.2" y="657.1"  font-size="15.3">10<tspan dy="-5.9" dx="0.5" font-size="11">3</tspan></text>
<text x="187.8" y="494.8" text-anchor="middle"  font-size="14.4">Bet v1</text>
<text x="189.9" y="507.7" text-anchor="middle"  font-size="14.9">alone</text>
<text x="372.3" y="494.8" text-anchor="middle"  font-size="14.4">Bet v1</text>
<text x="379" y="508.8" text-anchor="middle"  font-size="14.6">+ Tregitope-167</text>
<path d="M235.4 519V563.5M212.8 541.5H258.5" stroke="#2a2a2a" stroke-width="1.25" fill="none"/>
<text x="204.5" y="535.2" font-size="13.2" textLength="27.5" lengthAdjust="spacingAndGlyphs">79%</text>
<text x="240.45" y="535.2" font-size="13.2" textLength="19.85" lengthAdjust="spacingAndGlyphs">0%</text>
<text x="206.2" y="558" font-size="13.2" textLength="24.4" lengthAdjust="spacingAndGlyphs">16%</text>
<text x="240.6" y="558" font-size="13.2" textLength="19.8" lengthAdjust="spacingAndGlyphs">5%</text>
<path d="M415.3 519V563.5M392.8 541.5H437.9" stroke="#2a2a2a" stroke-width="1.25" fill="none"/>
<text x="382.5" y="534.9" font-size="13.2" textLength="26.8" lengthAdjust="spacingAndGlyphs">14%</text>
<text x="419.15" y="534.9" font-size="13.2" textLength="20.45" lengthAdjust="spacingAndGlyphs">0%</text>
<text x="385.8" y="557.8" font-size="13.2" textLength="24.9" lengthAdjust="spacingAndGlyphs">42%</text>
<text x="418.2" y="557.8" font-size="13.2" textLength="26.8" lengthAdjust="spacingAndGlyphs">44%</text>
<g><rect x="147.8" y="577.0" width="1.15" height="1.15" fill="#3a3a3a" fill-opacity="0.41"/><rect x="155.3" y="577.3" width="1.15" height="1.15" fill="#3a3a3a" fill-opacity="0.32"/><rect x="155.3" y="576.2" width="1.15" height="1.15" fill="#3a3a3a" fill-opacity="0.21"/><rect x="147.3" y="573.5" width="1.15" height="1.15" fill="#3a3a3a" fill-opacity="0.23"/><rect x="140.0" y="580.4" width="1.15" height="1.15" fill="#3a3a3a" fill-opacity="0.24"/><rect x="150.5" y="585.6" width="1.15" height="1.15" fill="#3a3a3a" fill-opacity="0.50"/><rect x="144.3" y="567.4" width="1.15" height="1.15" fill="#3a3a3a" fill-opacity="0.51"/><rect x="159.6" y="577.6" width="1.15" height="1.15" fill="#3a3a3a" fill-opacity="0.29"/><rect x="150.9" y="575.9" width="1.15" height="1.15" fill="#3a3a3a" fill-opacity="0.30"/><rect x="150.6" y="566.3" width="1.15" height="1.15" fill="#3a3a3a" fill-opacity="0.39"/><rect x="145.8" y="564.8" width="1.15" height="1.15" fill="#3a3a3a" fill-opacity="0.38"/><rect x="151.0" y="573.3" width="1.15" height="1.15" fill="#3a3a3a" fill-opacity="0.27"/><rect x="146.7" y="562.6" width="1.15" height="1.15" fill="#3a3a3a" fill-opacity="0.30"/><rect x="144.0" y="566.5" width="1.15" height="1.15" fill="#3a3a3a" fill-opacity="0.30"/><rect x="151.5" y="557.4" width="1.15" height="1.15" fill="#3a3a3a" fill-opacity="0.28"/><rect x="143.2" y="566.6" width="1.15" height="1.15" fill="#3a3a3a" fill-opacity="0.48"/><rect x="148.6" y="564.0" width="1.15" height="1.15" fill="#3a3a3a" fill-opacity="0.51"/><rect x="153.4" y="578.9" width="1.15" height="1.15" fill="#3a3a3a" fill-opacity="0.44"/><rect x="152.9" y="581.3" width="1.15" height="1.15" fill="#3a3a3a" fill-opacity="0.21"/><rect x="144.6" y="557.5" width="1.15" height="1.15" fill="#3a3a3a" fill-opacity="0.38"/><rect x="152.6" y="566.0" width="1.15" height="1.15" fill="#3a3a3a" fill-opacity="0.42"/><rect x="143.2" y="564.8" width="1.15" height="1.15" fill="#3a3a3a" fill-opacity="0.35"/><rect x="141.2" y="574.3" width="1.15" height="1.15" fill="#3a3a3a" fill-opacity="0.22"/><rect x="146.8" y="558.5" width="1.15" height="1.15" fill="#3a3a3a" fill-opacity="0.52"/><rect x="151.2" y="564.8" width="1.15" height="1.15" fill="#3a3a3a" fill-opacity="0.32"/><rect x="148.6" y="570.2" width="1.15" height="1.15" fill="#3a3a3a" fill-opacity="0.35"/><rect x="150.6" y="576.3" width="1.15" height="1.15" fill="#3a3a3a" fill-opacity="0.22"/><rect x="149.5" y="566.9" width="1.15" height="1.15" fill="#3a3a3a" fill-opacity="0.28"/><rect x="140.6" y="584.6" width="1.15" height="1.15" fill="#3a3a3a" fill-opacity="0.23"/><rect x="142.6" y="575.9" width="1.15" height="1.15" fill="#3a3a3a" fill-opacity="0.48"/><rect x="153.8" y="554.3" width="1.15" height="1.15" fill="#3a3a3a" fill-opacity="0.29"/><rect x="144.7" y="576.7" width="1.15" height="1.15" fill="#3a3a3a" fill-opacity="0.48"/><rect x="152.2" y="570.5" width="1.15" height="1.15" fill="#3a3a3a" fill-opacity="0.26"/><rect x="149.7" y="579.1" width="1.15" height="1.15" fill="#3a3a3a" fill-opacity="0.36"/><rect x="145.6" y="567.9" width="1.15" height="1.15" fill="#3a3a3a" fill-opacity="0.20"/><rect x="144.6" y="576.6" width="1.15" height="1.15" fill="#3a3a3a" fill-opacity="0.38"/><rect x="157.3" y="567.6" width="1.15" height="1.15" fill="#3a3a3a" fill-opacity="0.36"/><rect x="143.1" y="562.1" width="1.15" height="1.15" fill="#3a3a3a" fill-opacity="0.22"/><rect x="156.9" y="561.9" width="1.15" height="1.15" fill="#3a3a3a" fill-opacity="0.48"/><rect x="150.8" y="562.7" width="1.15" height="1.15" fill="#3a3a3a" fill-opacity="0.33"/><rect x="155.4" y="580.4" width="1.15" height="1.15" fill="#3a3a3a" fill-opacity="0.22"/><rect x="152.6" y="574.8" width="1.15" height="1.15" fill="#3a3a3a" fill-opacity="0.25"/><rect x="148.2" y="574.7" width="1.15" height="1.15" fill="#3a3a3a" fill-opacity="0.20"/><rect x="150.7" y="575.7" width="1.15" height="1.15" fill="#3a3a3a" fill-opacity="0.32"/><rect x="160.3" y="575.2" width="1.15" height="1.15" fill="#3a3a3a" fill-opacity="0.40"/><rect x="151.7" y="578.0" width="1.15" height="1.15" fill="#3a3a3a" fill-opacity="0.31"/><rect x="147.3" y="575.8" width="1.15" height="1.15" fill="#3a3a3a" fill-opacity="0.47"/><rect x="155.4" y="571.5" width="1.15" height="1.15" fill="#3a3a3a" fill-opacity="0.35"/><rect x="151.4" y="574.3" width="1.15" height="1.15" fill="#3a3a3a" fill-opacity="0.31"/><rect x="148.2" y="590.3" width="1.15" height="1.15" fill="#3a3a3a" fill-opacity="0.25"/><rect x="146.2" y="571.0" width="1.15" height="1.15" fill="#3a3a3a" fill-opacity="0.37"/><rect x="155.8" y="574.0" width="1.15" height="1.15" fill="#3a3a3a" fill-opacity="0.51"/><rect x="154.7" y="560.5" width="1.15" height="1.15" fill="#3a3a3a" fill-opacity="0.28"/><rect x="147.0" y="576.4" width="1.15" height="1.15" fill="#3a3a3a" fill-opacity="0.45"/><rect x="139.8" y="568.5" width="1.15" height="1.15" fill="#3a3a3a" fill-opacity="0.31"/><rect x="150.9" y="589.6" width="1.15" height="1.15" fill="#3a3a3a" fill-opacity="0.52"/><rect x="155.2" y="557.8" width="1.15" height="1.15" fill="#3a3a3a" fill-opacity="0.46"/><rect x="148.9" y="565.0" width="1.15" height="1.15" fill="#3a3a3a" fill-opacity="0.37"/><rect x="148.4" y="573.9" width="1.15" height="1.15" fill="#3a3a3a" fill-opacity="0.21"/><rect x="148.4" y="579.5" width="1.15" height="1.15" fill="#3a3a3a" fill-opacity="0.42"/><rect x="155.0" y="569.1" width="1.15" height="1.15" fill="#3a3a3a" fill-opacity="0.50"/><rect x="146.6" y="577.2" width="1.15" height="1.15" fill="#3a3a3a" fill-opacity="0.27"/><rect x="150.4" y="578.3" width="1.15" height="1.15" fill="#3a3a3a" fill-opacity="0.40"/><rect x="157.7" y="561.0" width="1.15" height="1.15" fill="#3a3a3a" fill-opacity="0.35"/><rect x="143.6" y="557.6" width="1.15" height="1.15" fill="#3a3a3a" fill-opacity="0.23"/><rect x="142.8" y="553.8" width="1.15" height="1.15" fill="#3a3a3a" fill-opacity="0.45"/><rect x="149.2" y="560.8" width="1.15" height="1.15" fill="#3a3a3a" fill-opacity="0.26"/><rect x="150.4" y="563.5" width="1.15" height="1.15" fill="#3a3a3a" fill-opacity="0.46"/><rect x="154.6" y="570.3" width="1.15" height="1.15" fill="#3a3a3a" fill-opacity="0.33"/><rect x="157.5" y="566.8" width="1.15" height="1.15" fill="#3a3a3a" fill-opacity="0.25"/><rect x="151.4" y="576.0" width="1.15" height="1.15" fill="#3a3a3a" fill-opacity="0.49"/><rect x="150.3" y="566.8" width="1.15" height="1.15" fill="#3a3a3a" fill-opacity="0.46"/><rect x="157.2" y="570.2" width="1.15" height="1.15" fill="#3a3a3a" fill-opacity="0.31"/><rect x="146.4" y="570.4" width="1.15" height="1.15" fill="#3a3a3a" fill-opacity="0.20"/><rect x="157.0" y="569.4" width="1.15" height="1.15" fill="#3a3a3a" fill-opacity="0.37"/><rect x="154.6" y="567.8" width="1.15" height="1.15" fill="#3a3a3a" fill-opacity="0.48"/><rect x="150.9" y="566.0" width="1.15" height="1.15" fill="#3a3a3a" fill-opacity="0.28"/><rect x="148.1" y="579.0" width="1.15" height="1.15" fill="#3a3a3a" fill-opacity="0.39"/><rect x="148.9" y="582.2" width="1.15" height="1.15" fill="#3a3a3a" fill-opacity="0.24"/><rect x="153.5" y="567.1" width="1.15" height="1.15" fill="#3a3a3a" fill-opacity="0.35"/><rect x="138.9" y="561.4" width="1.15" height="1.15" fill="#3a3a3a" fill-opacity="0.33"/><rect x="154.8" y="566.3" width="1.15" height="1.15" fill="#3a3a3a" fill-opacity="0.37"/><rect x="148.1" y="571.7" width="1.15" height="1.15" fill="#3a3a3a" fill-opacity="0.34"/><rect x="149.4" y="572.8" width="1.15" height="1.15" fill="#3a3a3a" fill-opacity="0.46"/><rect x="152.1" y="581.8" width="1.15" height="1.15" fill="#3a3a3a" fill-opacity="0.43"/><rect x="144.6" y="569.0" width="1.15" height="1.15" fill="#3a3a3a" fill-opacity="0.37"/><rect x="140.1" y="566.1" width="1.15" height="1.15" fill="#3a3a3a" fill-opacity="0.23"/><rect x="145.3" y="569.3" width="1.15" height="1.15" fill="#3a3a3a" fill-opacity="0.29"/><rect x="150.1" y="560.4" width="1.15" height="1.15" fill="#3a3a3a" fill-opacity="0.38"/><rect x="142.1" y="576.7" width="1.15" height="1.15" fill="#3a3a3a" fill-opacity="0.36"/><rect x="140.8" y="570.9" width="1.15" height="1.15" fill="#3a3a3a" fill-opacity="0.34"/><rect x="143.1" y="569.7" width="1.15" height="1.15" fill="#3a3a3a" fill-opacity="0.50"/><rect x="153.2" y="569.3" width="1.15" height="1.15" fill="#3a3a3a" fill-opacity="0.38"/><rect x="159.1" y="565.5" width="1.15" height="1.15" fill="#3a3a3a" fill-opacity="0.24"/><rect x="153.5" y="579.3" width="1.15" height="1.15" fill="#3a3a3a" fill-opacity="0.22"/><rect x="149.3" y="575.8" width="1.15" height="1.15" fill="#3a3a3a" fill-opacity="0.41"/><rect x="154.1" y="584.8" width="1.15" height="1.15" fill="#3a3a3a" fill-opacity="0.41"/><rect x="156.3" y="587.9" width="1.15" height="1.15" fill="#3a3a3a" fill-opacity="0.51"/><rect x="151.8" y="595.8" width="1.15" height="1.15" fill="#3a3a3a" fill-opacity="0.33"/><rect x="150.8" y="566.9" width="1.15" height="1.15" fill="#3a3a3a" fill-opacity="0.34"/><rect x="144.2" y="571.1" width="1.15" height="1.15" fill="#3a3a3a" fill-opacity="0.26"/><rect x="145.5" y="586.3" width="1.15" height="1.15" fill="#3a3a3a" fill-opacity="0.21"/><rect x="143.6" y="568.5" width="1.15" height="1.15" fill="#3a3a3a" fill-opacity="0.21"/><rect x="145.4" y="583.9" width="1.15" height="1.15" fill="#3a3a3a" fill-opacity="0.36"/><rect x="152.6" y="576.7" width="1.15" height="1.15" fill="#3a3a3a" fill-opacity="0.21"/><rect x="150.0" y="564.3" width="1.15" height="1.15" fill="#3a3a3a" fill-opacity="0.24"/><rect x="138.5" y="582.1" width="1.15" height="1.15" fill="#3a3a3a" fill-opacity="0.46"/><rect x="149.0" y="577.6" width="1.15" height="1.15" fill="#3a3a3a" fill-opacity="0.49"/><rect x="141.5" y="565.5" width="1.15" height="1.15" fill="#3a3a3a" fill-opacity="0.23"/><rect x="157.1" y="577.3" width="1.15" height="1.15" fill="#3a3a3a" fill-opacity="0.34"/><rect x="160.9" y="582.2" width="1.15" height="1.15" fill="#3a3a3a" fill-opacity="0.40"/><rect x="149.9" y="568.1" width="1.15" height="1.15" fill="#3a3a3a" fill-opacity="0.47"/><rect x="159.2" y="579.9" width="1.15" height="1.15" fill="#3a3a3a" fill-opacity="0.35"/><rect x="145.5" y="582.5" width="1.15" height="1.15" fill="#3a3a3a" fill-opacity="0.50"/><rect x="148.9" y="577.1" width="1.15" height="1.15" fill="#3a3a3a" fill-opacity="0.37"/><rect x="149.4" y="576.7" width="1.15" height="1.15" fill="#3a3a3a" fill-opacity="0.25"/><rect x="152.7" y="574.0" width="1.15" height="1.15" fill="#3a3a3a" fill-opacity="0.30"/><rect x="146.1" y="587.6" width="1.15" height="1.15" fill="#3a3a3a" fill-opacity="0.29"/><rect x="145.8" y="572.0" width="1.15" height="1.15" fill="#3a3a3a" fill-opacity="0.31"/><rect x="153.3" y="572.8" width="1.15" height="1.15" fill="#3a3a3a" fill-opacity="0.20"/><rect x="148.5" y="559.7" width="1.15" height="1.15" fill="#3a3a3a" fill-opacity="0.26"/><rect x="157.2" y="583.2" width="1.15" height="1.15" fill="#3a3a3a" fill-opacity="0.34"/><rect x="138.8" y="572.6" width="1.15" height="1.15" fill="#3a3a3a" fill-opacity="0.33"/><rect x="140.8" y="571.4" width="1.15" height="1.15" fill="#3a3a3a" fill-opacity="0.51"/><rect x="143.5" y="587.5" width="1.15" height="1.15" fill="#3a3a3a" fill-opacity="0.43"/><rect x="145.5" y="564.5" width="1.15" height="1.15" fill="#3a3a3a" fill-opacity="0.31"/><rect x="151.9" y="573.7" width="1.15" height="1.15" fill="#3a3a3a" fill-opacity="0.22"/><rect x="149.0" y="564.5" width="1.15" height="1.15" fill="#3a3a3a" fill-opacity="0.25"/><rect x="158.3" y="581.5" width="1.15" height="1.15" fill="#3a3a3a" fill-opacity="0.48"/><rect x="147.1" y="565.0" width="1.15" height="1.15" fill="#3a3a3a" fill-opacity="0.28"/><rect x="147.6" y="582.5" width="1.15" height="1.15" fill="#3a3a3a" fill-opacity="0.25"/><rect x="145.1" y="574.6" width="1.15" height="1.15" fill="#3a3a3a" fill-opacity="0.51"/><rect x="156.0" y="569.9" width="1.15" height="1.15" fill="#3a3a3a" fill-opacity="0.28"/><rect x="153.8" y="570.2" width="1.15" height="1.15" fill="#3a3a3a" fill-opacity="0.31"/><rect x="154.6" y="572.1" width="1.15" height="1.15" fill="#3a3a3a" fill-opacity="0.35"/><rect x="145.5" y="571.9" width="1.15" height="1.15" fill="#3a3a3a" fill-opacity="0.36"/><rect x="153.5" y="572.2" width="1.15" height="1.15" fill="#3a3a3a" fill-opacity="0.23"/><rect x="147.9" y="573.7" width="1.15" height="1.15" fill="#3a3a3a" fill-opacity="0.21"/><rect x="147.9" y="578.7" width="1.15" height="1.15" fill="#3a3a3a" fill-opacity="0.39"/><rect x="140.2" y="569.0" width="1.15" height="1.15" fill="#3a3a3a" fill-opacity="0.41"/><rect x="145.4" y="577.6" width="1.15" height="1.15" fill="#3a3a3a" fill-opacity="0.52"/><rect x="154.4" y="584.7" width="1.15" height="1.15" fill="#3a3a3a" fill-opacity="0.41"/><rect x="159.3" y="577.1" width="1.15" height="1.15" fill="#3a3a3a" fill-opacity="0.49"/><rect x="143.0" y="560.6" width="1.15" height="1.15" fill="#3a3a3a" fill-opacity="0.46"/><rect x="153.5" y="581.2" width="1.15" height="1.15" fill="#3a3a3a" fill-opacity="0.36"/><rect x="154.3" y="556.8" width="1.15" height="1.15" fill="#3a3a3a" fill-opacity="0.46"/><rect x="139.2" y="561.6" width="1.15" height="1.15" fill="#3a3a3a" fill-opacity="0.42"/><rect x="147.8" y="565.4" width="1.15" height="1.15" fill="#3a3a3a" fill-opacity="0.21"/><rect x="152.7" y="578.9" width="1.15" height="1.15" fill="#3a3a3a" fill-opacity="0.23"/><rect x="152.8" y="561.2" width="1.15" height="1.15" fill="#3a3a3a" fill-opacity="0.40"/><rect x="143.4" y="561.4" width="1.15" height="1.15" fill="#3a3a3a" fill-opacity="0.36"/><rect x="159.0" y="572.4" width="1.15" height="1.15" fill="#3a3a3a" fill-opacity="0.44"/><rect x="142.4" y="571.8" width="1.15" height="1.15" fill="#3a3a3a" fill-opacity="0.41"/><rect x="157.4" y="578.5" width="1.15" height="1.15" fill="#3a3a3a" fill-opacity="0.28"/><rect x="153.1" y="575.5" width="1.15" height="1.15" fill="#3a3a3a" fill-opacity="0.43"/><rect x="151.7" y="587.4" width="1.15" height="1.15" fill="#3a3a3a" fill-opacity="0.51"/><rect x="143.8" y="572.4" width="1.15" height="1.15" fill="#3a3a3a" fill-opacity="0.35"/><rect x="145.4" y="556.7" width="1.15" height="1.15" fill="#3a3a3a" fill-opacity="0.40"/><rect x="147.8" y="568.9" width="1.15" height="1.15" fill="#3a3a3a" fill-opacity="0.25"/><rect x="149.0" y="588.2" width="1.15" height="1.15" fill="#3a3a3a" fill-opacity="0.30"/><rect x="148.4" y="571.4" width="1.15" height="1.15" fill="#3a3a3a" fill-opacity="0.22"/><rect x="148.2" y="586.5" width="1.15" height="1.15" fill="#3a3a3a" fill-opacity="0.42"/><rect x="147.1" y="564.7" width="1.15" height="1.15" fill="#3a3a3a" fill-opacity="0.37"/><rect x="143.2" y="574.4" width="1.15" height="1.15" fill="#3a3a3a" fill-opacity="0.24"/><rect x="152.1" y="568.0" width="1.15" height="1.15" fill="#3a3a3a" fill-opacity="0.51"/><rect x="150.2" y="571.3" width="1.15" height="1.15" fill="#3a3a3a" fill-opacity="0.35"/><rect x="145.1" y="574.4" width="1.15" height="1.15" fill="#3a3a3a" fill-opacity="0.27"/><rect x="152.8" y="569.7" width="1.15" height="1.15" fill="#3a3a3a" fill-opacity="0.39"/><rect x="153.4" y="581.3" width="1.15" height="1.15" fill="#3a3a3a" fill-opacity="0.50"/><rect x="156.1" y="585.4" width="1.15" height="1.15" fill="#3a3a3a" fill-opacity="0.36"/><rect x="155.7" y="562.0" width="1.15" height="1.15" fill="#3a3a3a" fill-opacity="0.27"/><rect x="154.3" y="565.2" width="1.15" height="1.15" fill="#3a3a3a" fill-opacity="0.21"/><rect x="155.6" y="572.3" width="1.15" height="1.15" fill="#3a3a3a" fill-opacity="0.34"/><rect x="148.2" y="577.1" width="1.15" height="1.15" fill="#3a3a3a" fill-opacity="0.31"/><rect x="145.0" y="589.2" width="1.15" height="1.15" fill="#3a3a3a" fill-opacity="0.20"/><rect x="158.4" y="587.3" width="1.15" height="1.15" fill="#3a3a3a" fill-opacity="0.43"/><rect x="152.9" y="567.3" width="1.15" height="1.15" fill="#3a3a3a" fill-opacity="0.32"/><rect x="144.8" y="567.1" width="1.15" height="1.15" fill="#3a3a3a" fill-opacity="0.34"/><rect x="148.9" y="575.0" width="1.15" height="1.15" fill="#3a3a3a" fill-opacity="0.23"/><rect x="151.5" y="565.1" width="1.15" height="1.15" fill="#3a3a3a" fill-opacity="0.50"/><rect x="149.2" y="579.7" width="1.15" height="1.15" fill="#3a3a3a" fill-opacity="0.36"/><rect x="151.2" y="580.8" width="1.15" height="1.15" fill="#3a3a3a" fill-opacity="0.51"/><rect x="156.7" y="560.1" width="1.15" height="1.15" fill="#3a3a3a" fill-opacity="0.40"/><rect x="160.4" y="559.9" width="1.15" height="1.15" fill="#3a3a3a" fill-opacity="0.38"/><rect x="148.9" y="568.9" width="1.15" height="1.15" fill="#3a3a3a" fill-opacity="0.43"/><rect x="140.4" y="577.0" width="1.15" height="1.15" fill="#3a3a3a" fill-opacity="0.41"/><rect x="148.8" y="575.0" width="1.15" height="1.15" fill="#3a3a3a" fill-opacity="0.50"/><rect x="153.5" y="579.9" width="1.15" height="1.15" fill="#3a3a3a" fill-opacity="0.31"/><rect x="146.5" y="587.3" width="1.15" height="1.15" fill="#3a3a3a" fill-opacity="0.51"/><rect x="148.7" y="586.3" width="1.15" height="1.15" fill="#3a3a3a" fill-opacity="0.30"/><rect x="144.0" y="568.5" width="1.15" height="1.15" fill="#3a3a3a" fill-opacity="0.25"/><rect x="151.2" y="577.7" width="1.15" height="1.15" fill="#3a3a3a" fill-opacity="0.49"/><rect x="145.3" y="572.1" width="1.15" height="1.15" fill="#3a3a3a" fill-opacity="0.49"/><rect x="155.2" y="571.8" width="1.15" height="1.15" fill="#3a3a3a" fill-opacity="0.24"/><rect x="150.0" y="576.0" width="1.15" height="1.15" fill="#3a3a3a" fill-opacity="0.31"/><rect x="152.6" y="575.9" width="1.15" height="1.15" fill="#3a3a3a" fill-opacity="0.28"/><rect x="138.8" y="563.3" width="1.15" height="1.15" fill="#3a3a3a" fill-opacity="0.44"/><rect x="144.3" y="577.3" width="1.15" height="1.15" fill="#3a3a3a" fill-opacity="0.37"/><rect x="145.6" y="578.2" width="1.15" height="1.15" fill="#3a3a3a" fill-opacity="0.22"/><rect x="146.7" y="597.3" width="1.15" height="1.15" fill="#3a3a3a" fill-opacity="0.24"/><rect x="141.4" y="571.7" width="1.15" height="1.15" fill="#3a3a3a" fill-opacity="0.48"/><rect x="150.1" y="579.6" width="1.15" height="1.15" fill="#3a3a3a" fill-opacity="0.28"/><rect x="144.4" y="578.3" width="1.15" height="1.15" fill="#3a3a3a" fill-opacity="0.51"/><rect x="155.7" y="555.8" width="1.15" height="1.15" fill="#3a3a3a" fill-opacity="0.21"/><rect x="157.7" y="575.1" width="1.15" height="1.15" fill="#3a3a3a" fill-opacity="0.49"/><rect x="142.0" y="574.2" width="1.15" height="1.15" fill="#3a3a3a" fill-opacity="0.20"/><rect x="139.4" y="586.1" width="1.15" height="1.15" fill="#3a3a3a" fill-opacity="0.46"/><rect x="149.2" y="576.7" width="1.15" height="1.15" fill="#3a3a3a" fill-opacity="0.25"/><rect x="141.0" y="569.9" width="1.15" height="1.15" fill="#3a3a3a" fill-opacity="0.50"/><rect x="147.8" y="558.1" width="1.15" height="1.15" fill="#3a3a3a" fill-opacity="0.44"/><rect x="142.5" y="575.3" width="1.15" height="1.15" fill="#3a3a3a" fill-opacity="0.21"/><rect x="150.0" y="565.0" width="1.15" height="1.15" fill="#3a3a3a" fill-opacity="0.49"/><rect x="146.3" y="565.4" width="1.15" height="1.15" fill="#3a3a3a" fill-opacity="0.24"/><rect x="149.1" y="585.9" width="1.15" height="1.15" fill="#3a3a3a" fill-opacity="0.42"/><rect x="150.8" y="574.4" width="1.15" height="1.15" fill="#3a3a3a" fill-opacity="0.37"/><rect x="144.5" y="567.2" width="1.15" height="1.15" fill="#3a3a3a" fill-opacity="0.27"/><rect x="148.6" y="571.2" width="1.15" height="1.15" fill="#3a3a3a" fill-opacity="0.30"/><rect x="142.2" y="556.0" width="1.15" height="1.15" fill="#3a3a3a" fill-opacity="0.35"/><rect x="149.6" y="579.3" width="1.15" height="1.15" fill="#3a3a3a" fill-opacity="0.51"/><rect x="147.9" y="563.9" width="1.15" height="1.15" fill="#3a3a3a" fill-opacity="0.21"/><rect x="141.0" y="572.2" width="1.15" height="1.15" fill="#3a3a3a" fill-opacity="0.33"/><rect x="148.8" y="586.5" width="1.15" height="1.15" fill="#3a3a3a" fill-opacity="0.50"/><rect x="149.4" y="574.6" width="1.15" height="1.15" fill="#3a3a3a" fill-opacity="0.31"/><rect x="141.9" y="579.1" width="1.15" height="1.15" fill="#3a3a3a" fill-opacity="0.26"/><rect x="151.8" y="556.6" width="1.15" height="1.15" fill="#3a3a3a" fill-opacity="0.36"/><rect x="153.2" y="596.9" width="1.15" height="1.15" fill="#3a3a3a" fill-opacity="0.30"/><rect x="150.9" y="565.6" width="1.15" height="1.15" fill="#3a3a3a" fill-opacity="0.27"/><rect x="149.5" y="563.8" width="1.15" height="1.15" fill="#3a3a3a" fill-opacity="0.50"/><rect x="145.7" y="572.2" width="1.15" height="1.15" fill="#3a3a3a" fill-opacity="0.27"/><rect x="142.1" y="579.2" width="1.15" height="1.15" fill="#3a3a3a" fill-opacity="0.50"/><rect x="152.5" y="579.8" width="1.15" height="1.15" fill="#3a3a3a" fill-opacity="0.27"/><rect x="152.2" y="571.1" width="1.15" height="1.15" fill="#3a3a3a" fill-opacity="0.22"/><rect x="154.3" y="575.6" width="1.15" height="1.15" fill="#3a3a3a" fill-opacity="0.49"/><rect x="155.8" y="561.4" width="1.15" height="1.15" fill="#3a3a3a" fill-opacity="0.52"/><rect x="153.7" y="568.4" width="1.15" height="1.15" fill="#3a3a3a" fill-opacity="0.26"/><rect x="157.6" y="565.6" width="1.15" height="1.15" fill="#3a3a3a" fill-opacity="0.21"/><rect x="146.5" y="563.8" width="1.15" height="1.15" fill="#3a3a3a" fill-opacity="0.32"/><rect x="147.6" y="577.2" width="1.15" height="1.15" fill="#3a3a3a" fill-opacity="0.20"/><rect x="148.2" y="581.0" width="1.15" height="1.15" fill="#3a3a3a" fill-opacity="0.51"/><rect x="159.3" y="589.7" width="1.15" height="1.15" fill="#3a3a3a" fill-opacity="0.27"/><rect x="142.9" y="586.3" width="1.15" height="1.15" fill="#3a3a3a" fill-opacity="0.46"/><rect x="147.6" y="573.3" width="1.15" height="1.15" fill="#3a3a3a" fill-opacity="0.35"/><rect x="140.6" y="587.8" width="1.15" height="1.15" fill="#3a3a3a" fill-opacity="0.26"/><rect x="141.5" y="587.7" width="1.15" height="1.15" fill="#3a3a3a" fill-opacity="0.21"/><rect x="140.7" y="581.5" width="1.15" height="1.15" fill="#3a3a3a" fill-opacity="0.45"/><rect x="150.6" y="572.7" width="1.15" height="1.15" fill="#3a3a3a" fill-opacity="0.22"/><rect x="152.9" y="568.4" width="1.15" height="1.15" fill="#3a3a3a" fill-opacity="0.44"/><rect x="153.2" y="566.7" width="1.15" height="1.15" fill="#3a3a3a" fill-opacity="0.29"/><rect x="156.6" y="568.4" width="1.15" height="1.15" fill="#3a3a3a" fill-opacity="0.28"/><rect x="148.2" y="563.6" width="1.15" height="1.15" fill="#3a3a3a" fill-opacity="0.29"/><rect x="158.4" y="572.4" width="1.15" height="1.15" fill="#3a3a3a" fill-opacity="0.49"/><rect x="140.4" y="554.5" width="1.15" height="1.15" fill="#3a3a3a" fill-opacity="0.21"/><rect x="149.8" y="583.1" width="1.15" height="1.15" fill="#3a3a3a" fill-opacity="0.51"/><rect x="154.4" y="569.2" width="1.15" height="1.15" fill="#3a3a3a" fill-opacity="0.28"/><rect x="143.4" y="576.9" width="1.15" height="1.15" fill="#3a3a3a" fill-opacity="0.50"/><rect x="153.3" y="588.1" width="1.15" height="1.15" fill="#3a3a3a" fill-opacity="0.44"/><rect x="153.4" y="556.9" width="1.15" height="1.15" fill="#3a3a3a" fill-opacity="0.39"/><rect x="146.9" y="579.6" width="1.15" height="1.15" fill="#3a3a3a" fill-opacity="0.32"/><rect x="149.6" y="568.1" width="1.15" height="1.15" fill="#3a3a3a" fill-opacity="0.26"/><rect x="149.3" y="564.6" width="1.15" height="1.15" fill="#3a3a3a" fill-opacity="0.22"/><rect x="156.0" y="574.6" width="1.15" height="1.15" fill="#3a3a3a" fill-opacity="0.30"/><rect x="160.5" y="569.5" width="1.15" height="1.15" fill="#3a3a3a" fill-opacity="0.52"/><rect x="149.0" y="576.1" width="1.15" height="1.15" fill="#3a3a3a" fill-opacity="0.23"/><rect x="140.5" y="572.1" width="1.15" height="1.15" fill="#3a3a3a" fill-opacity="0.34"/><rect x="149.8" y="582.1" width="1.15" height="1.15" fill="#3a3a3a" fill-opacity="0.40"/><rect x="145.0" y="557.5" width="1.15" height="1.15" fill="#3a3a3a" fill-opacity="0.47"/><rect x="147.8" y="567.7" width="1.15" height="1.15" fill="#3a3a3a" fill-opacity="0.47"/><rect x="147.3" y="584.2" width="1.15" height="1.15" fill="#3a3a3a" fill-opacity="0.32"/><rect x="148.9" y="565.5" width="1.15" height="1.15" fill="#3a3a3a" fill-opacity="0.28"/><rect x="149.3" y="577.7" width="1.15" height="1.15" fill="#3a3a3a" fill-opacity="0.48"/><rect x="144.9" y="567.9" width="1.15" height="1.15" fill="#3a3a3a" fill-opacity="0.33"/><rect x="155.7" y="571.4" width="1.15" height="1.15" fill="#3a3a3a" fill-opacity="0.27"/><rect x="152.1" y="558.7" width="1.15" height="1.15" fill="#3a3a3a" fill-opacity="0.52"/><rect x="154.2" y="578.7" width="1.15" height="1.15" fill="#3a3a3a" fill-opacity="0.46"/><rect x="155.8" y="553.7" width="1.15" height="1.15" fill="#3a3a3a" fill-opacity="0.21"/><rect x="148.4" y="576.8" width="1.15" height="1.15" fill="#3a3a3a" fill-opacity="0.26"/><rect x="156.4" y="569.8" width="1.15" height="1.15" fill="#3a3a3a" fill-opacity="0.50"/><rect x="141.5" y="586.1" width="1.15" height="1.15" fill="#3a3a3a" fill-opacity="0.34"/><rect x="148.6" y="589.0" width="1.15" height="1.15" fill="#3a3a3a" fill-opacity="0.50"/><rect x="155.0" y="580.1" width="1.15" height="1.15" fill="#3a3a3a" fill-opacity="0.40"/><rect x="150.3" y="581.2" width="1.15" height="1.15" fill="#3a3a3a" fill-opacity="0.25"/><rect x="150.4" y="579.2" width="1.15" height="1.15" fill="#3a3a3a" fill-opacity="0.39"/><rect x="147.1" y="566.6" width="1.15" height="1.15" fill="#3a3a3a" fill-opacity="0.20"/><rect x="145.3" y="585.1" width="1.15" height="1.15" fill="#3a3a3a" fill-opacity="0.26"/><rect x="147.8" y="578.1" width="1.15" height="1.15" fill="#3a3a3a" fill-opacity="0.45"/><rect x="147.3" y="570.9" width="1.15" height="1.15" fill="#3a3a3a" fill-opacity="0.23"/><rect x="143.7" y="579.6" width="1.15" height="1.15" fill="#3a3a3a" fill-opacity="0.40"/><rect x="152.0" y="575.2" width="1.15" height="1.15" fill="#3a3a3a" fill-opacity="0.42"/><rect x="145.4" y="576.3" width="1.15" height="1.15" fill="#3a3a3a" fill-opacity="0.30"/><rect x="153.8" y="569.5" width="1.15" height="1.15" fill="#3a3a3a" fill-opacity="0.38"/><rect x="145.6" y="580.0" width="1.15" height="1.15" fill="#3a3a3a" fill-opacity="0.48"/><rect x="154.4" y="571.8" width="1.15" height="1.15" fill="#3a3a3a" fill-opacity="0.26"/><rect x="148.7" y="565.4" width="1.15" height="1.15" fill="#3a3a3a" fill-opacity="0.20"/><rect x="153.9" y="566.0" width="1.15" height="1.15" fill="#3a3a3a" fill-opacity="0.46"/><rect x="139.7" y="583.3" width="1.15" height="1.15" fill="#3a3a3a" fill-opacity="0.35"/><rect x="149.7" y="573.4" width="1.15" height="1.15" fill="#3a3a3a" fill-opacity="0.38"/><rect x="141.5" y="555.4" width="1.15" height="1.15" fill="#3a3a3a" fill-opacity="0.23"/><rect x="145.4" y="565.4" width="1.15" height="1.15" fill="#3a3a3a" fill-opacity="0.36"/><rect x="151.9" y="578.3" width="1.15" height="1.15" fill="#3a3a3a" fill-opacity="0.37"/><rect x="151.6" y="569.9" width="1.15" height="1.15" fill="#3a3a3a" fill-opacity="0.36"/><rect x="150.1" y="576.8" width="1.15" height="1.15" fill="#3a3a3a" fill-opacity="0.50"/><rect x="155.4" y="570.3" width="1.15" height="1.15" fill="#3a3a3a" fill-opacity="0.22"/><rect x="154.1" y="567.7" width="1.15" height="1.15" fill="#3a3a3a" fill-opacity="0.49"/><rect x="141.7" y="559.5" width="1.15" height="1.15" fill="#3a3a3a" fill-opacity="0.25"/><rect x="150.1" y="565.2" width="1.15" height="1.15" fill="#3a3a3a" fill-opacity="0.33"/><rect x="155.1" y="556.9" width="1.15" height="1.15" fill="#3a3a3a" fill-opacity="0.26"/><rect x="150.3" y="581.7" width="1.15" height="1.15" fill="#3a3a3a" fill-opacity="0.37"/><rect x="147.1" y="575.4" width="1.15" height="1.15" fill="#3a3a3a" fill-opacity="0.28"/><rect x="156.0" y="575.2" width="1.15" height="1.15" fill="#3a3a3a" fill-opacity="0.44"/><rect x="159.4" y="576.4" width="1.15" height="1.15" fill="#3a3a3a" fill-opacity="0.24"/><rect x="143.6" y="564.8" width="1.15" height="1.15" fill="#3a3a3a" fill-opacity="0.40"/><rect x="147.2" y="581.6" width="1.15" height="1.15" fill="#3a3a3a" fill-opacity="0.39"/><rect x="142.0" y="578.5" width="1.15" height="1.15" fill="#3a3a3a" fill-opacity="0.34"/><rect x="148.1" y="572.8" width="1.15" height="1.15" fill="#3a3a3a" fill-opacity="0.40"/><rect x="145.2" y="572.5" width="1.15" height="1.15" fill="#3a3a3a" fill-opacity="0.44"/><rect x="150.3" y="561.3" width="1.15" height="1.15" fill="#3a3a3a" fill-opacity="0.26"/><rect x="146.6" y="572.8" width="1.15" height="1.15" fill="#3a3a3a" fill-opacity="0.24"/><rect x="147.0" y="573.8" width="1.15" height="1.15" fill="#3a3a3a" fill-opacity="0.34"/><rect x="147.6" y="571.8" width="1.15" height="1.15" fill="#3a3a3a" fill-opacity="0.40"/><rect x="157.0" y="579.9" width="1.15" height="1.15" fill="#3a3a3a" fill-opacity="0.45"/><rect x="147.4" y="571.8" width="1.15" height="1.15" fill="#3a3a3a" fill-opacity="0.36"/><rect x="139.5" y="588.7" width="1.15" height="1.15" fill="#3a3a3a" fill-opacity="0.24"/><rect x="148.1" y="554.1" width="1.15" height="1.15" fill="#3a3a3a" fill-opacity="0.26"/><rect x="155.6" y="570.7" width="1.15" height="1.15" fill="#3a3a3a" fill-opacity="0.51"/><rect x="152.1" y="569.0" width="1.15" height="1.15" fill="#3a3a3a" fill-opacity="0.45"/><rect x="151.0" y="570.5" width="1.15" height="1.15" fill="#3a3a3a" fill-opacity="0.31"/><rect x="149.3" y="566.2" width="1.15" height="1.15" fill="#3a3a3a" fill-opacity="0.49"/><rect x="147.6" y="589.8" width="1.15" height="1.15" fill="#3a3a3a" fill-opacity="0.25"/><rect x="150.3" y="579.4" width="1.15" height="1.15" fill="#3a3a3a" fill-opacity="0.36"/><rect x="148.6" y="574.4" width="1.15" height="1.15" fill="#3a3a3a" fill-opacity="0.26"/><rect x="156.0" y="591.5" width="1.15" height="1.15" fill="#3a3a3a" fill-opacity="0.42"/><rect x="151.8" y="568.4" width="1.15" height="1.15" fill="#3a3a3a" fill-opacity="0.45"/><rect x="154.3" y="580.0" width="1.15" height="1.15" fill="#3a3a3a" fill-opacity="0.40"/><rect x="142.1" y="587.4" width="1.15" height="1.15" fill="#3a3a3a" fill-opacity="0.38"/><rect x="139.2" y="562.2" width="1.15" height="1.15" fill="#3a3a3a" fill-opacity="0.23"/><rect x="156.9" y="571.4" width="1.15" height="1.15" fill="#3a3a3a" fill-opacity="0.33"/><rect x="150.5" y="564.7" width="1.15" height="1.15" fill="#3a3a3a" fill-opacity="0.52"/><rect x="144.6" y="567.7" width="1.15" height="1.15" fill="#3a3a3a" fill-opacity="0.44"/><rect x="146.0" y="574.2" width="1.15" height="1.15" fill="#3a3a3a" fill-opacity="0.44"/><rect x="158.9" y="577.4" width="1.15" height="1.15" fill="#3a3a3a" fill-opacity="0.28"/><rect x="142.2" y="564.6" width="1.15" height="1.15" fill="#3a3a3a" fill-opacity="0.30"/><rect x="150.6" y="572.0" width="1.15" height="1.15" fill="#3a3a3a" fill-opacity="0.25"/><rect x="144.8" y="565.1" width="1.15" height="1.15" fill="#3a3a3a" fill-opacity="0.36"/><rect x="151.5" y="568.8" width="1.15" height="1.15" fill="#3a3a3a" fill-opacity="0.27"/><rect x="148.5" y="570.3" width="1.15" height="1.15" fill="#3a3a3a" fill-opacity="0.20"/><rect x="147.6" y="575.7" width="1.15" height="1.15" fill="#3a3a3a" fill-opacity="0.31"/><rect x="150.4" y="584.8" width="1.15" height="1.15" fill="#3a3a3a" fill-opacity="0.39"/><rect x="151.4" y="585.1" width="1.15" height="1.15" fill="#3a3a3a" fill-opacity="0.35"/><rect x="157.8" y="589.2" width="1.15" height="1.15" fill="#3a3a3a" fill-opacity="0.28"/><rect x="150.7" y="575.5" width="1.15" height="1.15" fill="#3a3a3a" fill-opacity="0.40"/><rect x="155.8" y="559.6" width="1.15" height="1.15" fill="#3a3a3a" fill-opacity="0.33"/><rect x="149.1" y="573.5" width="1.15" height="1.15" fill="#3a3a3a" fill-opacity="0.41"/><rect x="144.5" y="568.5" width="1.15" height="1.15" fill="#3a3a3a" fill-opacity="0.41"/><rect x="148.8" y="564.6" width="1.15" height="1.15" fill="#3a3a3a" fill-opacity="0.49"/><rect x="155.7" y="575.3" width="1.15" height="1.15" fill="#3a3a3a" fill-opacity="0.33"/><rect x="149.3" y="575.4" width="1.15" height="1.15" fill="#3a3a3a" fill-opacity="0.45"/><rect x="156.1" y="573.0" width="1.15" height="1.15" fill="#3a3a3a" fill-opacity="0.50"/><rect x="151.5" y="577.1" width="1.15" height="1.15" fill="#3a3a3a" fill-opacity="0.39"/><rect x="141.3" y="571.4" width="1.15" height="1.15" fill="#3a3a3a" fill-opacity="0.46"/><rect x="151.4" y="579.5" width="1.15" height="1.15" fill="#3a3a3a" fill-opacity="0.30"/><rect x="160.2" y="578.2" width="1.15" height="1.15" fill="#3a3a3a" fill-opacity="0.45"/><rect x="149.1" y="570.9" width="1.15" height="1.15" fill="#3a3a3a" fill-opacity="0.47"/><rect x="149.0" y="561.0" width="1.15" height="1.15" fill="#3a3a3a" fill-opacity="0.44"/><rect x="145.4" y="574.1" width="1.15" height="1.15" fill="#3a3a3a" fill-opacity="0.23"/><rect x="149.4" y="574.7" width="1.15" height="1.15" fill="#3a3a3a" fill-opacity="0.31"/><rect x="149.2" y="556.9" width="1.15" height="1.15" fill="#3a3a3a" fill-opacity="0.47"/><rect x="148.2" y="564.5" width="1.15" height="1.15" fill="#3a3a3a" fill-opacity="0.38"/><rect x="140.3" y="578.8" width="1.15" height="1.15" fill="#3a3a3a" fill-opacity="0.37"/><rect x="148.4" y="586.0" width="1.15" height="1.15" fill="#3a3a3a" fill-opacity="0.51"/><rect x="151.5" y="591.8" width="1.15" height="1.15" fill="#3a3a3a" fill-opacity="0.20"/><rect x="148.9" y="579.2" width="1.15" height="1.15" fill="#3a3a3a" fill-opacity="0.44"/><rect x="157.8" y="566.5" width="1.15" height="1.15" fill="#3a3a3a" fill-opacity="0.30"/><rect x="152.8" y="566.0" width="1.15" height="1.15" fill="#3a3a3a" fill-opacity="0.28"/><rect x="155.7" y="564.4" width="1.15" height="1.15" fill="#3a3a3a" fill-opacity="0.42"/><rect x="138.9" y="575.6" width="1.15" height="1.15" fill="#3a3a3a" fill-opacity="0.42"/><rect x="152.9" y="563.8" width="1.15" height="1.15" fill="#3a3a3a" fill-opacity="0.43"/><rect x="144.9" y="568.4" width="1.15" height="1.15" fill="#3a3a3a" fill-opacity="0.27"/><rect x="147.6" y="569.3" width="1.15" height="1.15" fill="#3a3a3a" fill-opacity="0.49"/><rect x="150.0" y="573.8" width="1.15" height="1.15" fill="#3a3a3a" fill-opacity="0.23"/><rect x="153.8" y="568.1" width="1.15" height="1.15" fill="#3a3a3a" fill-opacity="0.25"/><rect x="150.8" y="572.5" width="1.15" height="1.15" fill="#3a3a3a" fill-opacity="0.42"/><rect x="143.5" y="560.7" width="1.15" height="1.15" fill="#3a3a3a" fill-opacity="0.44"/><rect x="155.9" y="577.3" width="1.15" height="1.15" fill="#3a3a3a" fill-opacity="0.32"/><rect x="153.4" y="555.5" width="1.15" height="1.15" fill="#3a3a3a" fill-opacity="0.49"/><rect x="159.3" y="579.9" width="1.15" height="1.15" fill="#3a3a3a" fill-opacity="0.49"/><rect x="151.7" y="570.4" width="1.15" height="1.15" fill="#3a3a3a" fill-opacity="0.27"/><rect x="150.3" y="573.7" width="1.15" height="1.15" fill="#3a3a3a" fill-opacity="0.47"/><rect x="152.2" y="559.1" width="1.15" height="1.15" fill="#3a3a3a" fill-opacity="0.46"/><rect x="146.1" y="566.1" width="1.15" height="1.15" fill="#3a3a3a" fill-opacity="0.23"/><rect x="156.8" y="581.5" width="1.15" height="1.15" fill="#3a3a3a" fill-opacity="0.27"/><rect x="146.8" y="581.3" width="1.15" height="1.15" fill="#3a3a3a" fill-opacity="0.21"/><rect x="149.0" y="580.0" width="1.15" height="1.15" fill="#3a3a3a" fill-opacity="0.43"/><rect x="145.9" y="578.4" width="1.15" height="1.15" fill="#3a3a3a" fill-opacity="0.51"/><rect x="138.5" y="571.6" width="1.15" height="1.15" fill="#3a3a3a" fill-opacity="0.40"/><rect x="154.8" y="574.0" width="1.15" height="1.15" fill="#3a3a3a" fill-opacity="0.34"/><rect x="149.9" y="563.1" width="1.15" height="1.15" fill="#3a3a3a" fill-opacity="0.43"/><rect x="145.5" y="570.4" width="1.15" height="1.15" fill="#3a3a3a" fill-opacity="0.48"/><rect x="157.8" y="581.8" width="1.15" height="1.15" fill="#3a3a3a" fill-opacity="0.25"/><rect x="152.9" y="572.1" width="1.15" height="1.15" fill="#3a3a3a" fill-opacity="0.44"/><rect x="149.7" y="571.9" width="1.15" height="1.15" fill="#3a3a3a" fill-opacity="0.36"/><rect x="139.4" y="572.9" width="1.15" height="1.15" fill="#3a3a3a" fill-opacity="0.26"/><rect x="144.1" y="572.3" width="1.15" height="1.15" fill="#3a3a3a" fill-opacity="0.47"/><rect x="148.3" y="595.5" width="1.15" height="1.15" fill="#3a3a3a" fill-opacity="0.29"/><rect x="151.1" y="586.8" width="1.15" height="1.15" fill="#3a3a3a" fill-opacity="0.36"/><rect x="155.2" y="580.9" width="1.15" height="1.15" fill="#3a3a3a" fill-opacity="0.23"/><rect x="151.2" y="557.3" width="1.15" height="1.15" fill="#3a3a3a" fill-opacity="0.45"/><rect x="145.6" y="565.4" width="1.15" height="1.15" fill="#3a3a3a" fill-opacity="0.33"/><rect x="140.1" y="584.7" width="1.15" height="1.15" fill="#3a3a3a" fill-opacity="0.23"/><rect x="150.1" y="570.6" width="1.15" height="1.15" fill="#3a3a3a" fill-opacity="0.27"/><rect x="148.2" y="593.0" width="1.15" height="1.15" fill="#3a3a3a" fill-opacity="0.36"/><rect x="140.9" y="586.0" width="1.15" height="1.15" fill="#3a3a3a" fill-opacity="0.27"/><rect x="142.6" y="574.9" width="1.15" height="1.15" fill="#3a3a3a" fill-opacity="0.44"/><rect x="149.3" y="557.9" width="1.15" height="1.15" fill="#3a3a3a" fill-opacity="0.31"/><rect x="147.7" y="577.0" width="1.15" height="1.15" fill="#3a3a3a" fill-opacity="0.47"/><rect x="144.5" y="558.3" width="1.15" height="1.15" fill="#3a3a3a" fill-opacity="0.25"/><rect x="140.4" y="578.3" width="1.15" height="1.15" fill="#3a3a3a" fill-opacity="0.39"/><rect x="153.5" y="579.8" width="1.15" height="1.15" fill="#3a3a3a" fill-opacity="0.48"/><rect x="149.5" y="578.4" width="1.15" height="1.15" fill="#3a3a3a" fill-opacity="0.30"/><rect x="146.1" y="553.9" width="1.15" height="1.15" fill="#3a3a3a" fill-opacity="0.25"/><rect x="151.5" y="578.1" width="1.15" height="1.15" fill="#3a3a3a" fill-opacity="0.30"/><rect x="146.0" y="571.2" width="1.15" height="1.15" fill="#3a3a3a" fill-opacity="0.30"/><rect x="154.8" y="596.7" width="1.15" height="1.15" fill="#3a3a3a" fill-opacity="0.43"/><rect x="160.5" y="587.0" width="1.15" height="1.15" fill="#3a3a3a" fill-opacity="0.23"/><rect x="151.7" y="556.7" width="1.15" height="1.15" fill="#3a3a3a" fill-opacity="0.34"/><rect x="151.8" y="585.2" width="1.15" height="1.15" fill="#3a3a3a" fill-opacity="0.23"/><rect x="150.7" y="581.4" width="1.15" height="1.15" fill="#3a3a3a" fill-opacity="0.21"/><rect x="141.4" y="582.3" width="1.15" height="1.15" fill="#3a3a3a" fill-opacity="0.42"/><rect x="141.4" y="572.0" width="1.15" height="1.15" fill="#3a3a3a" fill-opacity="0.35"/><rect x="153.9" y="582.4" width="1.15" height="1.15" fill="#3a3a3a" fill-opacity="0.33"/><rect x="142.7" y="577.4" width="1.15" height="1.15" fill="#3a3a3a" fill-opacity="0.44"/><rect x="145.7" y="575.4" width="1.15" height="1.15" fill="#3a3a3a" fill-opacity="0.43"/><rect x="156.1" y="560.4" width="1.15" height="1.15" fill="#3a3a3a" fill-opacity="0.42"/><rect x="154.2" y="560.2" width="1.15" height="1.15" fill="#3a3a3a" fill-opacity="0.41"/><rect x="144.6" y="574.4" width="1.15" height="1.15" fill="#3a3a3a" fill-opacity="0.40"/><rect x="153.9" y="577.9" width="1.15" height="1.15" fill="#3a3a3a" fill-opacity="0.45"/><rect x="147.4" y="558.6" width="1.15" height="1.15" fill="#3a3a3a" fill-opacity="0.28"/><rect x="143.8" y="577.0" width="1.15" height="1.15" fill="#3a3a3a" fill-opacity="0.40"/><rect x="142.3" y="579.9" width="1.15" height="1.15" fill="#3a3a3a" fill-opacity="0.50"/><rect x="152.5" y="585.0" width="1.15" height="1.15" fill="#3a3a3a" fill-opacity="0.45"/><rect x="144.3" y="579.3" width="1.15" height="1.15" fill="#3a3a3a" fill-opacity="0.51"/><rect x="155.9" y="574.9" width="1.15" height="1.15" fill="#3a3a3a" fill-opacity="0.25"/><rect x="146.7" y="571.5" width="1.15" height="1.15" fill="#3a3a3a" fill-opacity="0.38"/><rect x="140.7" y="568.0" width="1.15" height="1.15" fill="#3a3a3a" fill-opacity="0.36"/><rect x="142.6" y="557.9" width="1.15" height="1.15" fill="#3a3a3a" fill-opacity="0.37"/><rect x="151.3" y="586.4" width="1.15" height="1.15" fill="#3a3a3a" fill-opacity="0.33"/><rect x="149.4" y="567.0" width="1.15" height="1.15" fill="#3a3a3a" fill-opacity="0.52"/><rect x="148.0" y="574.6" width="1.15" height="1.15" fill="#3a3a3a" fill-opacity="0.29"/><rect x="148.5" y="572.9" width="1.15" height="1.15" fill="#3a3a3a" fill-opacity="0.33"/><rect x="141.7" y="579.3" width="1.15" height="1.15" fill="#3a3a3a" fill-opacity="0.31"/><rect x="148.8" y="579.0" width="1.15" height="1.15" fill="#3a3a3a" fill-opacity="0.44"/><rect x="155.4" y="588.8" width="1.15" height="1.15" fill="#3a3a3a" fill-opacity="0.25"/><rect x="151.1" y="585.4" width="1.15" height="1.15" fill="#3a3a3a" fill-opacity="0.25"/><rect x="155.7" y="600.8" width="1.15" height="1.15" fill="#3a3a3a" fill-opacity="0.40"/><rect x="145.6" y="586.1" width="1.15" height="1.15" fill="#3a3a3a" fill-opacity="0.34"/><rect x="145.0" y="600.0" width="1.15" height="1.15" fill="#3a3a3a" fill-opacity="0.40"/><rect x="151.9" y="584.8" width="1.15" height="1.15" fill="#3a3a3a" fill-opacity="0.27"/><rect x="146.9" y="590.9" width="1.15" height="1.15" fill="#3a3a3a" fill-opacity="0.41"/><rect x="143.3" y="602.8" width="1.15" height="1.15" fill="#3a3a3a" fill-opacity="0.27"/><rect x="146.7" y="595.8" width="1.15" height="1.15" fill="#3a3a3a" fill-opacity="0.31"/><rect x="149.6" y="592.5" width="1.15" height="1.15" fill="#3a3a3a" fill-opacity="0.38"/><rect x="148.7" y="597.1" width="1.15" height="1.15" fill="#3a3a3a" fill-opacity="0.28"/><rect x="144.0" y="592.9" width="1.15" height="1.15" fill="#3a3a3a" fill-opacity="0.36"/><rect x="146.8" y="586.4" width="1.15" height="1.15" fill="#3a3a3a" fill-opacity="0.43"/><rect x="150.6" y="590.1" width="1.15" height="1.15" fill="#3a3a3a" fill-opacity="0.41"/><rect x="157.1" y="585.2" width="1.15" height="1.15" fill="#3a3a3a" fill-opacity="0.24"/><rect x="153.1" y="583.4" width="1.15" height="1.15" fill="#3a3a3a" fill-opacity="0.20"/><rect x="147.3" y="587.6" width="1.15" height="1.15" fill="#3a3a3a" fill-opacity="0.23"/><rect x="151.9" y="596.0" width="1.15" height="1.15" fill="#3a3a3a" fill-opacity="0.39"/><rect x="147.8" y="595.3" width="1.15" height="1.15" fill="#3a3a3a" fill-opacity="0.43"/><rect x="150.3" y="587.9" width="1.15" height="1.15" fill="#3a3a3a" fill-opacity="0.42"/><rect x="142.5" y="584.3" width="1.15" height="1.15" fill="#3a3a3a" fill-opacity="0.37"/><rect x="156.7" y="584.4" width="1.15" height="1.15" fill="#3a3a3a" fill-opacity="0.41"/><rect x="152.1" y="602.2" width="1.15" height="1.15" fill="#3a3a3a" fill-opacity="0.33"/><rect x="149.2" y="584.5" width="1.15" height="1.15" fill="#3a3a3a" fill-opacity="0.42"/><rect x="145.7" y="590.1" width="1.15" height="1.15" fill="#3a3a3a" fill-opacity="0.26"/><rect x="153.4" y="598.3" width="1.15" height="1.15" fill="#3a3a3a" fill-opacity="0.21"/><rect x="146.7" y="592.8" width="1.15" height="1.15" fill="#3a3a3a" fill-opacity="0.32"/><rect x="143.0" y="592.1" width="1.15" height="1.15" fill="#3a3a3a" fill-opacity="0.42"/><rect x="159.5" y="592.6" width="1.15" height="1.15" fill="#3a3a3a" fill-opacity="0.32"/><rect x="142.4" y="588.0" width="1.15" height="1.15" fill="#3a3a3a" fill-opacity="0.41"/><rect x="145.7" y="597.2" width="1.15" height="1.15" fill="#3a3a3a" fill-opacity="0.44"/><rect x="156.1" y="596.5" width="1.15" height="1.15" fill="#3a3a3a" fill-opacity="0.36"/><rect x="156.5" y="593.7" width="1.15" height="1.15" fill="#3a3a3a" fill-opacity="0.37"/><rect x="153.7" y="589.4" width="1.15" height="1.15" fill="#3a3a3a" fill-opacity="0.45"/><rect x="143.5" y="591.5" width="1.15" height="1.15" fill="#3a3a3a" fill-opacity="0.42"/><rect x="157.6" y="594.4" width="1.15" height="1.15" fill="#3a3a3a" fill-opacity="0.36"/><rect x="144.0" y="603.8" width="1.15" height="1.15" fill="#3a3a3a" fill-opacity="0.29"/><rect x="143.2" y="593.4" width="1.15" height="1.15" fill="#3a3a3a" fill-opacity="0.39"/><rect x="150.9" y="599.3" width="1.15" height="1.15" fill="#3a3a3a" fill-opacity="0.31"/><rect x="140.3" y="587.6" width="1.15" height="1.15" fill="#3a3a3a" fill-opacity="0.27"/><rect x="152.0" y="585.7" width="1.15" height="1.15" fill="#3a3a3a" fill-opacity="0.33"/><rect x="148.7" y="600.2" width="1.15" height="1.15" fill="#3a3a3a" fill-opacity="0.44"/><rect x="144.3" y="581.8" width="1.15" height="1.15" fill="#3a3a3a" fill-opacity="0.28"/><rect x="147.7" y="597.4" width="1.15" height="1.15" fill="#3a3a3a" fill-opacity="0.35"/><rect x="143.5" y="582.8" width="1.15" height="1.15" fill="#3a3a3a" fill-opacity="0.21"/><rect x="147.7" y="577.6" width="1.15" height="1.15" fill="#3a3a3a" fill-opacity="0.34"/><rect x="153.7" y="593.8" width="1.15" height="1.15" fill="#3a3a3a" fill-opacity="0.20"/><rect x="143.6" y="585.5" width="1.15" height="1.15" fill="#3a3a3a" fill-opacity="0.40"/><rect x="155.5" y="586.8" width="1.15" height="1.15" fill="#3a3a3a" fill-opacity="0.35"/><rect x="143.9" y="584.3" width="1.15" height="1.15" fill="#3a3a3a" fill-opacity="0.35"/><rect x="148.0" y="587.6" width="1.15" height="1.15" fill="#3a3a3a" fill-opacity="0.37"/><rect x="141.0" y="595.1" width="1.15" height="1.15" fill="#3a3a3a" fill-opacity="0.23"/><rect x="150.1" y="593.7" width="1.15" height="1.15" fill="#3a3a3a" fill-opacity="0.39"/><rect x="156.0" y="586.7" width="1.15" height="1.15" fill="#3a3a3a" fill-opacity="0.29"/><rect x="153.5" y="581.0" width="1.15" height="1.15" fill="#3a3a3a" fill-opacity="0.34"/><rect x="149.3" y="597.9" width="1.15" height="1.15" fill="#3a3a3a" fill-opacity="0.31"/><rect x="147.2" y="598.8" width="1.15" height="1.15" fill="#3a3a3a" fill-opacity="0.36"/><rect x="151.1" y="591.1" width="1.15" height="1.15" fill="#3a3a3a" fill-opacity="0.34"/><rect x="152.0" y="592.9" width="1.15" height="1.15" fill="#3a3a3a" fill-opacity="0.40"/><rect x="139.1" y="584.9" width="1.15" height="1.15" fill="#3a3a3a" fill-opacity="0.31"/><rect x="154.6" y="592.6" width="1.15" height="1.15" fill="#3a3a3a" fill-opacity="0.35"/><rect x="144.2" y="593.1" width="1.15" height="1.15" fill="#3a3a3a" fill-opacity="0.23"/><rect x="147.3" y="588.2" width="1.15" height="1.15" fill="#3a3a3a" fill-opacity="0.24"/><rect x="150.0" y="592.1" width="1.15" height="1.15" fill="#3a3a3a" fill-opacity="0.37"/><rect x="158.4" y="599.4" width="1.15" height="1.15" fill="#3a3a3a" fill-opacity="0.23"/><rect x="157.7" y="593.2" width="1.15" height="1.15" fill="#3a3a3a" fill-opacity="0.26"/><rect x="149.2" y="587.5" width="1.15" height="1.15" fill="#3a3a3a" fill-opacity="0.21"/><rect x="150.7" y="581.1" width="1.15" height="1.15" fill="#3a3a3a" fill-opacity="0.41"/><rect x="149.2" y="589.1" width="1.15" height="1.15" fill="#3a3a3a" fill-opacity="0.36"/><rect x="148.0" y="584.5" width="1.15" height="1.15" fill="#3a3a3a" fill-opacity="0.43"/><rect x="149.3" y="591.0" width="1.15" height="1.15" fill="#3a3a3a" fill-opacity="0.20"/><rect x="143.9" y="581.5" width="1.15" height="1.15" fill="#3a3a3a" fill-opacity="0.22"/><rect x="146.4" y="602.5" width="1.15" height="1.15" fill="#3a3a3a" fill-opacity="0.24"/><rect x="153.4" y="585.8" width="1.15" height="1.15" fill="#3a3a3a" fill-opacity="0.21"/><rect x="144.9" y="598.8" width="1.15" height="1.15" fill="#3a3a3a" fill-opacity="0.31"/><rect x="148.2" y="588.5" width="1.15" height="1.15" fill="#3a3a3a" fill-opacity="0.40"/><rect x="144.6" y="599.6" width="1.15" height="1.15" fill="#3a3a3a" fill-opacity="0.36"/><rect x="145.0" y="595.4" width="1.15" height="1.15" fill="#3a3a3a" fill-opacity="0.40"/><rect x="158.1" y="587.8" width="1.15" height="1.15" fill="#3a3a3a" fill-opacity="0.34"/><rect x="149.0" y="594.4" width="1.15" height="1.15" fill="#3a3a3a" fill-opacity="0.44"/><rect x="146.7" y="579.4" width="1.15" height="1.15" fill="#3a3a3a" fill-opacity="0.28"/><rect x="152.9" y="583.7" width="1.15" height="1.15" fill="#3a3a3a" fill-opacity="0.28"/><rect x="139.7" y="598.4" width="1.15" height="1.15" fill="#3a3a3a" fill-opacity="0.29"/><rect x="146.7" y="583.3" width="1.15" height="1.15" fill="#3a3a3a" fill-opacity="0.42"/><rect x="151.0" y="586.7" width="1.15" height="1.15" fill="#3a3a3a" fill-opacity="0.20"/><rect x="149.1" y="599.3" width="1.15" height="1.15" fill="#3a3a3a" fill-opacity="0.35"/><rect x="153.9" y="578.6" width="1.15" height="1.15" fill="#3a3a3a" fill-opacity="0.21"/><rect x="154.2" y="580.9" width="1.15" height="1.15" fill="#3a3a3a" fill-opacity="0.42"/><rect x="145.8" y="589.6" width="1.15" height="1.15" fill="#3a3a3a" fill-opacity="0.41"/><rect x="152.3" y="582.0" width="1.15" height="1.15" fill="#3a3a3a" fill-opacity="0.43"/><rect x="148.2" y="594.4" width="1.15" height="1.15" fill="#3a3a3a" fill-opacity="0.34"/><rect x="150.5" y="587.5" width="1.15" height="1.15" fill="#3a3a3a" fill-opacity="0.39"/><rect x="153.0" y="589.9" width="1.15" height="1.15" fill="#3a3a3a" fill-opacity="0.35"/><rect x="146.9" y="585.0" width="1.15" height="1.15" fill="#3a3a3a" fill-opacity="0.25"/><rect x="149.2" y="603.7" width="1.15" height="1.15" fill="#3a3a3a" fill-opacity="0.40"/><rect x="147.3" y="592.8" width="1.15" height="1.15" fill="#3a3a3a" fill-opacity="0.40"/><rect x="150.0" y="587.0" width="1.15" height="1.15" fill="#3a3a3a" fill-opacity="0.34"/><rect x="158.1" y="583.2" width="1.15" height="1.15" fill="#3a3a3a" fill-opacity="0.33"/><rect x="142.6" y="593.4" width="1.15" height="1.15" fill="#3a3a3a" fill-opacity="0.25"/><rect x="150.7" y="596.1" width="1.15" height="1.15" fill="#3a3a3a" fill-opacity="0.38"/><rect x="145.1" y="598.9" width="1.15" height="1.15" fill="#3a3a3a" fill-opacity="0.30"/><rect x="146.6" y="591.6" width="1.15" height="1.15" fill="#3a3a3a" fill-opacity="0.21"/><rect x="154.5" y="591.9" width="1.15" height="1.15" fill="#3a3a3a" fill-opacity="0.23"/><rect x="143.4" y="582.9" width="1.15" height="1.15" fill="#3a3a3a" fill-opacity="0.24"/><rect x="145.6" y="588.3" width="1.15" height="1.15" fill="#3a3a3a" fill-opacity="0.33"/><rect x="150.8" y="592.2" width="1.15" height="1.15" fill="#3a3a3a" fill-opacity="0.45"/><rect x="153.5" y="586.0" width="1.15" height="1.15" fill="#3a3a3a" fill-opacity="0.34"/><rect x="148.8" y="604.1" width="1.15" height="1.15" fill="#3a3a3a" fill-opacity="0.31"/><rect x="157.9" y="588.1" width="1.15" height="1.15" fill="#3a3a3a" fill-opacity="0.40"/><rect x="153.4" y="590.8" width="1.15" height="1.15" fill="#3a3a3a" fill-opacity="0.21"/><rect x="150.5" y="596.2" width="1.15" height="1.15" fill="#3a3a3a" fill-opacity="0.22"/><rect x="155.8" y="594.8" width="1.15" height="1.15" fill="#3a3a3a" fill-opacity="0.42"/><rect x="151.1" y="590.6" width="1.15" height="1.15" fill="#3a3a3a" fill-opacity="0.35"/><rect x="147.4" y="594.1" width="1.15" height="1.15" fill="#3a3a3a" fill-opacity="0.44"/><rect x="149.2" y="601.0" width="1.15" height="1.15" fill="#3a3a3a" fill-opacity="0.36"/><rect x="157.0" y="619.9" width="1.15" height="1.15" fill="#3a3a3a" fill-opacity="0.32"/><rect x="145.9" y="623.7" width="1.15" height="1.15" fill="#3a3a3a" fill-opacity="0.49"/><rect x="153.0" y="622.3" width="1.15" height="1.15" fill="#3a3a3a" fill-opacity="0.21"/><rect x="148.8" y="628.6" width="1.15" height="1.15" fill="#3a3a3a" fill-opacity="0.47"/><rect x="157.8" y="615.5" width="1.15" height="1.15" fill="#3a3a3a" fill-opacity="0.21"/><rect x="151.0" y="612.5" width="1.15" height="1.15" fill="#3a3a3a" fill-opacity="0.39"/><rect x="150.9" y="622.3" width="1.15" height="1.15" fill="#3a3a3a" fill-opacity="0.24"/><rect x="146.9" y="617.6" width="1.15" height="1.15" fill="#3a3a3a" fill-opacity="0.38"/><rect x="149.1" y="619.4" width="1.15" height="1.15" fill="#3a3a3a" fill-opacity="0.30"/><rect x="148.9" y="625.8" width="1.15" height="1.15" fill="#3a3a3a" fill-opacity="0.34"/><rect x="151.0" y="626.7" width="1.15" height="1.15" fill="#3a3a3a" fill-opacity="0.24"/><rect x="148.6" y="621.6" width="1.15" height="1.15" fill="#3a3a3a" fill-opacity="0.42"/><rect x="149.5" y="624.2" width="1.15" height="1.15" fill="#3a3a3a" fill-opacity="0.48"/><rect x="156.9" y="612.4" width="1.15" height="1.15" fill="#3a3a3a" fill-opacity="0.24"/><rect x="146.6" y="623.5" width="1.15" height="1.15" fill="#3a3a3a" fill-opacity="0.48"/><rect x="153.3" y="614.8" width="1.15" height="1.15" fill="#3a3a3a" fill-opacity="0.34"/><rect x="143.4" y="632.7" width="1.15" height="1.15" fill="#3a3a3a" fill-opacity="0.34"/><rect x="146.8" y="619.9" width="1.15" height="1.15" fill="#3a3a3a" fill-opacity="0.27"/><rect x="157.3" y="626.1" width="1.15" height="1.15" fill="#3a3a3a" fill-opacity="0.37"/><rect x="156.0" y="632.9" width="1.15" height="1.15" fill="#3a3a3a" fill-opacity="0.28"/><rect x="146.2" y="624.5" width="1.15" height="1.15" fill="#3a3a3a" fill-opacity="0.28"/><rect x="151.7" y="617.5" width="1.15" height="1.15" fill="#3a3a3a" fill-opacity="0.25"/><rect x="144.1" y="622.8" width="1.15" height="1.15" fill="#3a3a3a" fill-opacity="0.47"/><rect x="160.7" y="634.3" width="1.15" height="1.15" fill="#3a3a3a" fill-opacity="0.22"/><rect x="155.6" y="616.6" width="1.15" height="1.15" fill="#3a3a3a" fill-opacity="0.26"/><rect x="144.4" y="623.3" width="1.15" height="1.15" fill="#3a3a3a" fill-opacity="0.28"/><rect x="150.6" y="628.4" width="1.15" height="1.15" fill="#3a3a3a" fill-opacity="0.50"/><rect x="152.8" y="625.6" width="1.15" height="1.15" fill="#3a3a3a" fill-opacity="0.47"/><rect x="157.4" y="626.2" width="1.15" height="1.15" fill="#3a3a3a" fill-opacity="0.29"/><rect x="150.0" y="622.3" width="1.15" height="1.15" fill="#3a3a3a" fill-opacity="0.44"/><rect x="147.3" y="625.5" width="1.15" height="1.15" fill="#3a3a3a" fill-opacity="0.20"/><rect x="152.4" y="615.6" width="1.15" height="1.15" fill="#3a3a3a" fill-opacity="0.26"/><rect x="150.4" y="630.8" width="1.15" height="1.15" fill="#3a3a3a" fill-opacity="0.24"/><rect x="153.1" y="632.6" width="1.15" height="1.15" fill="#3a3a3a" fill-opacity="0.41"/><rect x="149.7" y="625.0" width="1.15" height="1.15" fill="#3a3a3a" fill-opacity="0.23"/><rect x="143.9" y="617.7" width="1.15" height="1.15" fill="#3a3a3a" fill-opacity="0.28"/><rect x="151.1" y="631.1" width="1.15" height="1.15" fill="#3a3a3a" fill-opacity="0.41"/><rect x="151.8" y="614.5" width="1.15" height="1.15" fill="#3a3a3a" fill-opacity="0.26"/><rect x="157.3" y="626.7" width="1.15" height="1.15" fill="#3a3a3a" fill-opacity="0.32"/><rect x="148.7" y="620.3" width="1.15" height="1.15" fill="#3a3a3a" fill-opacity="0.44"/><rect x="143.5" y="633.2" width="1.15" height="1.15" fill="#3a3a3a" fill-opacity="0.46"/><rect x="148.0" y="622.6" width="1.15" height="1.15" fill="#3a3a3a" fill-opacity="0.47"/><rect x="148.6" y="626.6" width="1.15" height="1.15" fill="#3a3a3a" fill-opacity="0.45"/><rect x="146.8" y="625.4" width="1.15" height="1.15" fill="#3a3a3a" fill-opacity="0.31"/><rect x="148.6" y="622.1" width="1.15" height="1.15" fill="#3a3a3a" fill-opacity="0.36"/><rect x="142.6" y="625.1" width="1.15" height="1.15" fill="#3a3a3a" fill-opacity="0.24"/><rect x="146.7" y="610.8" width="1.15" height="1.15" fill="#3a3a3a" fill-opacity="0.46"/><rect x="145.2" y="631.7" width="1.15" height="1.15" fill="#3a3a3a" fill-opacity="0.31"/><rect x="149.0" y="620.2" width="1.15" height="1.15" fill="#3a3a3a" fill-opacity="0.46"/><rect x="155.3" y="620.3" width="1.15" height="1.15" fill="#3a3a3a" fill-opacity="0.35"/><rect x="142.2" y="621.0" width="1.15" height="1.15" fill="#3a3a3a" fill-opacity="0.21"/><rect x="152.9" y="621.6" width="1.15" height="1.15" fill="#3a3a3a" fill-opacity="0.25"/><rect x="152.4" y="625.5" width="1.15" height="1.15" fill="#3a3a3a" fill-opacity="0.45"/><rect x="151.5" y="623.0" width="1.15" height="1.15" fill="#3a3a3a" fill-opacity="0.41"/><rect x="149.4" y="623.7" width="1.15" height="1.15" fill="#3a3a3a" fill-opacity="0.38"/><rect x="143.0" y="618.8" width="1.15" height="1.15" fill="#3a3a3a" fill-opacity="0.41"/><rect x="158.0" y="630.4" width="1.15" height="1.15" fill="#3a3a3a" fill-opacity="0.42"/><rect x="151.8" y="623.4" width="1.15" height="1.15" fill="#3a3a3a" fill-opacity="0.35"/><rect x="144.5" y="622.5" width="1.15" height="1.15" fill="#3a3a3a" fill-opacity="0.24"/><rect x="146.5" y="624.5" width="1.15" height="1.15" fill="#3a3a3a" fill-opacity="0.38"/><rect x="151.0" y="619.7" width="1.15" height="1.15" fill="#3a3a3a" fill-opacity="0.37"/><rect x="148.9" y="618.6" width="1.15" height="1.15" fill="#3a3a3a" fill-opacity="0.45"/><rect x="154.1" y="620.0" width="1.15" height="1.15" fill="#3a3a3a" fill-opacity="0.33"/><rect x="152.7" y="615.8" width="1.15" height="1.15" fill="#3a3a3a" fill-opacity="0.32"/><rect x="158.0" y="618.4" width="1.15" height="1.15" fill="#3a3a3a" fill-opacity="0.30"/><rect x="149.3" y="628.4" width="1.15" height="1.15" fill="#3a3a3a" fill-opacity="0.33"/><rect x="159.0" y="621.1" width="1.15" height="1.15" fill="#3a3a3a" fill-opacity="0.47"/><rect x="153.3" y="610.9" width="1.15" height="1.15" fill="#3a3a3a" fill-opacity="0.22"/><rect x="152.9" y="620.5" width="1.15" height="1.15" fill="#3a3a3a" fill-opacity="0.33"/><rect x="145.4" y="617.9" width="1.15" height="1.15" fill="#3a3a3a" fill-opacity="0.36"/><rect x="154.4" y="625.4" width="1.15" height="1.15" fill="#3a3a3a" fill-opacity="0.35"/><rect x="152.0" y="623.0" width="1.15" height="1.15" fill="#3a3a3a" fill-opacity="0.49"/><rect x="142.2" y="613.7" width="1.15" height="1.15" fill="#3a3a3a" fill-opacity="0.47"/><rect x="150.1" y="621.4" width="1.15" height="1.15" fill="#3a3a3a" fill-opacity="0.39"/><rect x="148.2" y="632.2" width="1.15" height="1.15" fill="#3a3a3a" fill-opacity="0.28"/><rect x="145.9" y="619.1" width="1.15" height="1.15" fill="#3a3a3a" fill-opacity="0.36"/><rect x="147.9" y="627.9" width="1.15" height="1.15" fill="#3a3a3a" fill-opacity="0.39"/><rect x="154.5" y="628.5" width="1.15" height="1.15" fill="#3a3a3a" fill-opacity="0.49"/><rect x="144.6" y="622.1" width="1.15" height="1.15" fill="#3a3a3a" fill-opacity="0.34"/><rect x="145.9" y="621.7" width="1.15" height="1.15" fill="#3a3a3a" fill-opacity="0.24"/><rect x="152.2" y="626.5" width="1.15" height="1.15" fill="#3a3a3a" fill-opacity="0.32"/><rect x="148.0" y="627.2" width="1.15" height="1.15" fill="#3a3a3a" fill-opacity="0.23"/><rect x="138.7" y="618.9" width="1.15" height="1.15" fill="#3a3a3a" fill-opacity="0.38"/><rect x="141.7" y="618.5" width="1.15" height="1.15" fill="#3a3a3a" fill-opacity="0.26"/><rect x="147.5" y="615.5" width="1.15" height="1.15" fill="#3a3a3a" fill-opacity="0.36"/><rect x="144.2" y="617.7" width="1.15" height="1.15" fill="#3a3a3a" fill-opacity="0.29"/><rect x="149.2" y="627.1" width="1.15" height="1.15" fill="#3a3a3a" fill-opacity="0.35"/><rect x="143.5" y="628.3" width="1.15" height="1.15" fill="#3a3a3a" fill-opacity="0.20"/><rect x="142.3" y="632.8" width="1.15" height="1.15" fill="#3a3a3a" fill-opacity="0.27"/><rect x="142.9" y="619.9" width="1.15" height="1.15" fill="#3a3a3a" fill-opacity="0.29"/><rect x="153.7" y="622.1" width="1.15" height="1.15" fill="#3a3a3a" fill-opacity="0.43"/><rect x="150.1" y="624.5" width="1.15" height="1.15" fill="#3a3a3a" fill-opacity="0.46"/><rect x="147.1" y="623.4" width="1.15" height="1.15" fill="#3a3a3a" fill-opacity="0.32"/><rect x="140.5" y="626.4" width="1.15" height="1.15" fill="#3a3a3a" fill-opacity="0.23"/><rect x="148.8" y="618.7" width="1.15" height="1.15" fill="#3a3a3a" fill-opacity="0.30"/><rect x="144.0" y="630.3" width="1.15" height="1.15" fill="#3a3a3a" fill-opacity="0.38"/><rect x="155.1" y="612.7" width="1.15" height="1.15" fill="#3a3a3a" fill-opacity="0.36"/><rect x="148.3" y="611.8" width="1.15" height="1.15" fill="#3a3a3a" fill-opacity="0.43"/><rect x="139.3" y="624.3" width="1.15" height="1.15" fill="#3a3a3a" fill-opacity="0.41"/><rect x="151.5" y="620.8" width="1.15" height="1.15" fill="#3a3a3a" fill-opacity="0.46"/><rect x="158.5" y="622.8" width="1.15" height="1.15" fill="#3a3a3a" fill-opacity="0.38"/><rect x="143.8" y="619.5" width="1.15" height="1.15" fill="#3a3a3a" fill-opacity="0.44"/><rect x="154.3" y="616.1" width="1.15" height="1.15" fill="#3a3a3a" fill-opacity="0.31"/><rect x="143.1" y="624.6" width="1.15" height="1.15" fill="#3a3a3a" fill-opacity="0.42"/><rect x="147.5" y="628.7" width="1.15" height="1.15" fill="#3a3a3a" fill-opacity="0.37"/><rect x="145.3" y="626.3" width="1.15" height="1.15" fill="#3a3a3a" fill-opacity="0.44"/><rect x="152.9" y="616.3" width="1.15" height="1.15" fill="#3a3a3a" fill-opacity="0.33"/><rect x="150.9" y="627.6" width="1.15" height="1.15" fill="#3a3a3a" fill-opacity="0.24"/><rect x="142.4" y="618.6" width="1.15" height="1.15" fill="#3a3a3a" fill-opacity="0.23"/><rect x="153.3" y="619.7" width="1.15" height="1.15" fill="#3a3a3a" fill-opacity="0.45"/><rect x="156.4" y="608.5" width="1.15" height="1.15" fill="#3a3a3a" fill-opacity="0.26"/><rect x="150.7" y="622.6" width="1.15" height="1.15" fill="#3a3a3a" fill-opacity="0.37"/><rect x="150.0" y="614.5" width="1.15" height="1.15" fill="#3a3a3a" fill-opacity="0.50"/><rect x="142.3" y="621.6" width="1.15" height="1.15" fill="#3a3a3a" fill-opacity="0.41"/><rect x="145.0" y="626.4" width="1.15" height="1.15" fill="#3a3a3a" fill-opacity="0.38"/><rect x="140.9" y="635.2" width="1.15" height="1.15" fill="#3a3a3a" fill-opacity="0.40"/><rect x="146.5" y="622.0" width="1.15" height="1.15" fill="#3a3a3a" fill-opacity="0.31"/><rect x="143.2" y="627.4" width="1.15" height="1.15" fill="#3a3a3a" fill-opacity="0.37"/><rect x="159.5" y="611.0" width="1.15" height="1.15" fill="#3a3a3a" fill-opacity="0.35"/><rect x="141.7" y="625.8" width="1.15" height="1.15" fill="#3a3a3a" fill-opacity="0.50"/><rect x="145.2" y="629.2" width="1.15" height="1.15" fill="#3a3a3a" fill-opacity="0.44"/><rect x="151.3" y="627.5" width="1.15" height="1.15" fill="#3a3a3a" fill-opacity="0.49"/><rect x="152.1" y="615.6" width="1.15" height="1.15" fill="#3a3a3a" fill-opacity="0.23"/><rect x="155.8" y="616.4" width="1.15" height="1.15" fill="#3a3a3a" fill-opacity="0.45"/><rect x="160.7" y="621.7" width="1.15" height="1.15" fill="#3a3a3a" fill-opacity="0.33"/><rect x="151.6" y="627.0" width="1.15" height="1.15" fill="#3a3a3a" fill-opacity="0.35"/><rect x="145.4" y="622.4" width="1.15" height="1.15" fill="#3a3a3a" fill-opacity="0.25"/><rect x="143.8" y="616.1" width="1.15" height="1.15" fill="#3a3a3a" fill-opacity="0.31"/><rect x="157.0" y="622.1" width="1.15" height="1.15" fill="#3a3a3a" fill-opacity="0.21"/><rect x="140.6" y="628.5" width="1.15" height="1.15" fill="#3a3a3a" fill-opacity="0.29"/><rect x="148.8" y="622.0" width="1.15" height="1.15" fill="#3a3a3a" fill-opacity="0.29"/><rect x="153.1" y="615.3" width="1.15" height="1.15" fill="#3a3a3a" fill-opacity="0.40"/><rect x="151.2" y="629.7" width="1.15" height="1.15" fill="#3a3a3a" fill-opacity="0.37"/><rect x="148.2" y="631.8" width="1.15" height="1.15" fill="#3a3a3a" fill-opacity="0.36"/><rect x="156.3" y="622.3" width="1.15" height="1.15" fill="#3a3a3a" fill-opacity="0.32"/><rect x="151.4" y="625.1" width="1.15" height="1.15" fill="#3a3a3a" fill-opacity="0.43"/><rect x="151.0" y="624.4" width="1.15" height="1.15" fill="#3a3a3a" fill-opacity="0.25"/><rect x="138.7" y="620.8" width="1.15" height="1.15" fill="#3a3a3a" fill-opacity="0.38"/><rect x="149.7" y="620.3" width="1.15" height="1.15" fill="#3a3a3a" fill-opacity="0.20"/><rect x="149.6" y="616.8" width="1.15" height="1.15" fill="#3a3a3a" fill-opacity="0.41"/><rect x="174.3" y="626.2" width="1.15" height="1.15" fill="#3a3a3a" fill-opacity="0.15"/><rect x="195.6" y="629.7" width="1.15" height="1.15" fill="#3a3a3a" fill-opacity="0.22"/><rect x="171.6" y="628.0" width="1.15" height="1.15" fill="#3a3a3a" fill-opacity="0.18"/><rect x="197.8" y="627.2" width="1.15" height="1.15" fill="#3a3a3a" fill-opacity="0.22"/><rect x="188.4" y="622.8" width="1.15" height="1.15" fill="#3a3a3a" fill-opacity="0.22"/><rect x="178.0" y="625.3" width="1.15" height="1.15" fill="#3a3a3a" fill-opacity="0.29"/><rect x="183.3" y="620.9" width="1.15" height="1.15" fill="#3a3a3a" fill-opacity="0.28"/><rect x="181.4" y="620.5" width="1.15" height="1.15" fill="#3a3a3a" fill-opacity="0.22"/><rect x="189.3" y="622.7" width="1.15" height="1.15" fill="#3a3a3a" fill-opacity="0.29"/><rect x="178.4" y="628.5" width="1.15" height="1.15" fill="#3a3a3a" fill-opacity="0.24"/><rect x="179.5" y="627.8" width="1.15" height="1.15" fill="#3a3a3a" fill-opacity="0.28"/><rect x="178.3" y="626.8" width="1.15" height="1.15" fill="#3a3a3a" fill-opacity="0.17"/><rect x="174.8" y="629.6" width="1.15" height="1.15" fill="#3a3a3a" fill-opacity="0.12"/><rect x="168.4" y="623.1" width="1.15" height="1.15" fill="#3a3a3a" fill-opacity="0.18"/><rect x="182.7" y="624.9" width="1.15" height="1.15" fill="#3a3a3a" fill-opacity="0.27"/><rect x="173.5" y="626.7" width="1.15" height="1.15" fill="#3a3a3a" fill-opacity="0.14"/><rect x="176.5" y="627.2" width="1.15" height="1.15" fill="#3a3a3a" fill-opacity="0.11"/><rect x="173.3" y="620.5" width="1.15" height="1.15" fill="#3a3a3a" fill-opacity="0.13"/><rect x="176.8" y="622.1" width="1.15" height="1.15" fill="#3a3a3a" fill-opacity="0.15"/><rect x="180.7" y="622.0" width="1.15" height="1.15" fill="#3a3a3a" fill-opacity="0.19"/><rect x="187.3" y="617.0" width="1.15" height="1.15" fill="#3a3a3a" fill-opacity="0.13"/><rect x="168.4" y="629.8" width="1.15" height="1.15" fill="#3a3a3a" fill-opacity="0.18"/><rect x="184.6" y="623.2" width="1.15" height="1.15" fill="#3a3a3a" fill-opacity="0.29"/><rect x="170.8" y="623.9" width="1.15" height="1.15" fill="#3a3a3a" fill-opacity="0.19"/><rect x="188.7" y="629.2" width="1.15" height="1.15" fill="#3a3a3a" fill-opacity="0.15"/><rect x="188.7" y="620.5" width="1.15" height="1.15" fill="#3a3a3a" fill-opacity="0.17"/><rect x="178.3" y="630.2" width="1.15" height="1.15" fill="#3a3a3a" fill-opacity="0.14"/><rect x="181.6" y="622.3" width="1.15" height="1.15" fill="#3a3a3a" fill-opacity="0.20"/><rect x="170.3" y="623.1" width="1.15" height="1.15" fill="#3a3a3a" fill-opacity="0.25"/><rect x="167.0" y="628.4" width="1.15" height="1.15" fill="#3a3a3a" fill-opacity="0.21"/><rect x="174.3" y="628.2" width="1.15" height="1.15" fill="#3a3a3a" fill-opacity="0.12"/><rect x="186.6" y="631.9" width="1.15" height="1.15" fill="#3a3a3a" fill-opacity="0.16"/><rect x="175.5" y="622.2" width="1.15" height="1.15" fill="#3a3a3a" fill-opacity="0.21"/><rect x="170.4" y="628.1" width="1.15" height="1.15" fill="#3a3a3a" fill-opacity="0.16"/><rect x="185.9" y="625.6" width="1.15" height="1.15" fill="#3a3a3a" fill-opacity="0.15"/><rect x="189.2" y="629.1" width="1.15" height="1.15" fill="#3a3a3a" fill-opacity="0.16"/><rect x="181.2" y="614.8" width="1.15" height="1.15" fill="#3a3a3a" fill-opacity="0.27"/><rect x="183.4" y="626.7" width="1.15" height="1.15" fill="#3a3a3a" fill-opacity="0.11"/><rect x="171.7" y="618.0" width="1.15" height="1.15" fill="#3a3a3a" fill-opacity="0.17"/><rect x="165.5" y="627.4" width="1.15" height="1.15" fill="#3a3a3a" fill-opacity="0.24"/><rect x="178.2" y="632.7" width="1.15" height="1.15" fill="#3a3a3a" fill-opacity="0.17"/><rect x="173.6" y="621.9" width="1.15" height="1.15" fill="#3a3a3a" fill-opacity="0.12"/><rect x="191.9" y="620.2" width="1.15" height="1.15" fill="#3a3a3a" fill-opacity="0.24"/><rect x="180.8" y="624.3" width="1.15" height="1.15" fill="#3a3a3a" fill-opacity="0.13"/><rect x="180.7" y="627.6" width="1.15" height="1.15" fill="#3a3a3a" fill-opacity="0.18"/><rect x="186.4" y="624.9" width="1.15" height="1.15" fill="#3a3a3a" fill-opacity="0.23"/><rect x="186.2" y="631.8" width="1.15" height="1.15" fill="#3a3a3a" fill-opacity="0.21"/><rect x="176.4" y="620.6" width="1.15" height="1.15" fill="#3a3a3a" fill-opacity="0.19"/><rect x="174.3" y="620.2" width="1.15" height="1.15" fill="#3a3a3a" fill-opacity="0.10"/><rect x="186.7" y="617.3" width="1.15" height="1.15" fill="#3a3a3a" fill-opacity="0.16"/><rect x="217.8" y="594.4" width="1.15" height="1.15" fill="#3a3a3a" fill-opacity="0.19"/><rect x="194.3" y="589.0" width="1.15" height="1.15" fill="#3a3a3a" fill-opacity="0.12"/><rect x="183.5" y="573.1" width="1.15" height="1.15" fill="#3a3a3a" fill-opacity="0.24"/><rect x="180.0" y="577.4" width="1.15" height="1.15" fill="#3a3a3a" fill-opacity="0.20"/><rect x="187.7" y="572.1" width="1.15" height="1.15" fill="#3a3a3a" fill-opacity="0.11"/><rect x="199.8" y="578.7" width="1.15" height="1.15" fill="#3a3a3a" fill-opacity="0.24"/><rect x="328.8" y="569.7" width="1.15" height="1.15" fill="#3a3a3a" fill-opacity="0.55"/><rect x="328.0" y="578.5" width="1.15" height="1.15" fill="#3a3a3a" fill-opacity="0.32"/><rect x="329.9" y="576.0" width="1.15" height="1.15" fill="#3a3a3a" fill-opacity="0.45"/><rect x="333.7" y="585.3" width="1.15" height="1.15" fill="#3a3a3a" fill-opacity="0.53"/><rect x="338.4" y="593.1" width="1.15" height="1.15" fill="#3a3a3a" fill-opacity="0.54"/><rect x="331.1" y="603.1" width="1.15" height="1.15" fill="#3a3a3a" fill-opacity="0.59"/><rect x="327.8" y="576.6" width="1.15" height="1.15" fill="#3a3a3a" fill-opacity="0.37"/><rect x="335.5" y="592.1" width="1.15" height="1.15" fill="#3a3a3a" fill-opacity="0.42"/><rect x="332.7" y="597.9" width="1.15" height="1.15" fill="#3a3a3a" fill-opacity="0.34"/><rect x="329.7" y="570.8" width="1.15" height="1.15" fill="#3a3a3a" fill-opacity="0.37"/><rect x="331.8" y="602.4" width="1.15" height="1.15" fill="#3a3a3a" fill-opacity="0.43"/><rect x="335.4" y="583.6" width="1.15" height="1.15" fill="#3a3a3a" fill-opacity="0.39"/><rect x="333.4" y="583.6" width="1.15" height="1.15" fill="#3a3a3a" fill-opacity="0.47"/><rect x="324.1" y="581.9" width="1.15" height="1.15" fill="#3a3a3a" fill-opacity="0.35"/><rect x="328.4" y="574.0" width="1.15" height="1.15" fill="#3a3a3a" fill-opacity="0.44"/><rect x="332.4" y="565.5" width="1.15" height="1.15" fill="#3a3a3a" fill-opacity="0.33"/><rect x="330.4" y="599.0" width="1.15" height="1.15" fill="#3a3a3a" fill-opacity="0.36"/><rect x="335.0" y="591.6" width="1.15" height="1.15" fill="#3a3a3a" fill-opacity="0.36"/><rect x="330.0" y="575.5" width="1.15" height="1.15" fill="#3a3a3a" fill-opacity="0.33"/><rect x="329.2" y="600.0" width="1.15" height="1.15" fill="#3a3a3a" fill-opacity="0.41"/><rect x="332.4" y="592.0" width="1.15" height="1.15" fill="#3a3a3a" fill-opacity="0.30"/><rect x="339.2" y="587.0" width="1.15" height="1.15" fill="#3a3a3a" fill-opacity="0.33"/><rect x="329.5" y="585.8" width="1.15" height="1.15" fill="#3a3a3a" fill-opacity="0.45"/><rect x="328.8" y="591.1" width="1.15" height="1.15" fill="#3a3a3a" fill-opacity="0.46"/><rect x="327.5" y="574.7" width="1.15" height="1.15" fill="#3a3a3a" fill-opacity="0.58"/><rect x="329.5" y="580.5" width="1.15" height="1.15" fill="#3a3a3a" fill-opacity="0.37"/><rect x="332.2" y="590.2" width="1.15" height="1.15" fill="#3a3a3a" fill-opacity="0.53"/><rect x="333.6" y="579.5" width="1.15" height="1.15" fill="#3a3a3a" fill-opacity="0.36"/><rect x="325.7" y="570.3" width="1.15" height="1.15" fill="#3a3a3a" fill-opacity="0.58"/><rect x="335.2" y="570.7" width="1.15" height="1.15" fill="#3a3a3a" fill-opacity="0.40"/><rect x="329.6" y="598.4" width="1.15" height="1.15" fill="#3a3a3a" fill-opacity="0.47"/><rect x="325.6" y="604.6" width="1.15" height="1.15" fill="#3a3a3a" fill-opacity="0.37"/><rect x="337.3" y="592.0" width="1.15" height="1.15" fill="#3a3a3a" fill-opacity="0.49"/><rect x="334.6" y="571.0" width="1.15" height="1.15" fill="#3a3a3a" fill-opacity="0.57"/><rect x="336.6" y="583.2" width="1.15" height="1.15" fill="#3a3a3a" fill-opacity="0.45"/><rect x="333.6" y="596.5" width="1.15" height="1.15" fill="#3a3a3a" fill-opacity="0.47"/><rect x="337.6" y="596.8" width="1.15" height="1.15" fill="#3a3a3a" fill-opacity="0.35"/><rect x="332.6" y="589.8" width="1.15" height="1.15" fill="#3a3a3a" fill-opacity="0.43"/><rect x="334.2" y="605.9" width="1.15" height="1.15" fill="#3a3a3a" fill-opacity="0.30"/><rect x="336.4" y="568.1" width="1.15" height="1.15" fill="#3a3a3a" fill-opacity="0.54"/><rect x="328.2" y="592.4" width="1.15" height="1.15" fill="#3a3a3a" fill-opacity="0.50"/><rect x="326.7" y="586.8" width="1.15" height="1.15" fill="#3a3a3a" fill-opacity="0.40"/><rect x="325.2" y="594.7" width="1.15" height="1.15" fill="#3a3a3a" fill-opacity="0.55"/><rect x="333.8" y="583.9" width="1.15" height="1.15" fill="#3a3a3a" fill-opacity="0.39"/><rect x="326.0" y="593.4" width="1.15" height="1.15" fill="#3a3a3a" fill-opacity="0.40"/><rect x="332.2" y="592.8" width="1.15" height="1.15" fill="#3a3a3a" fill-opacity="0.40"/><rect x="339.2" y="575.0" width="1.15" height="1.15" fill="#3a3a3a" fill-opacity="0.59"/><rect x="337.7" y="584.0" width="1.15" height="1.15" fill="#3a3a3a" fill-opacity="0.54"/><rect x="337.9" y="594.6" width="1.15" height="1.15" fill="#3a3a3a" fill-opacity="0.48"/><rect x="329.8" y="602.9" width="1.15" height="1.15" fill="#3a3a3a" fill-opacity="0.59"/><rect x="324.9" y="590.1" width="1.15" height="1.15" fill="#3a3a3a" fill-opacity="0.39"/><rect x="334.4" y="589.4" width="1.15" height="1.15" fill="#3a3a3a" fill-opacity="0.50"/><rect x="329.7" y="589.6" width="1.15" height="1.15" fill="#3a3a3a" fill-opacity="0.50"/><rect x="327.3" y="599.4" width="1.15" height="1.15" fill="#3a3a3a" fill-opacity="0.42"/><rect x="325.7" y="585.1" width="1.15" height="1.15" fill="#3a3a3a" fill-opacity="0.42"/><rect x="333.7" y="626.2" width="1.15" height="1.15" fill="#3a3a3a" fill-opacity="0.61"/><rect x="328.4" y="622.6" width="1.15" height="1.15" fill="#3a3a3a" fill-opacity="0.60"/><rect x="330.9" y="626.4" width="1.15" height="1.15" fill="#3a3a3a" fill-opacity="0.49"/><rect x="330.9" y="631.0" width="1.15" height="1.15" fill="#3a3a3a" fill-opacity="0.49"/><rect x="332.1" y="631.9" width="1.15" height="1.15" fill="#3a3a3a" fill-opacity="0.34"/><rect x="323.6" y="622.8" width="1.15" height="1.15" fill="#3a3a3a" fill-opacity="0.33"/><rect x="329.2" y="624.9" width="1.15" height="1.15" fill="#3a3a3a" fill-opacity="0.45"/><rect x="335.6" y="617.3" width="1.15" height="1.15" fill="#3a3a3a" fill-opacity="0.55"/><rect x="331.1" y="620.3" width="1.15" height="1.15" fill="#3a3a3a" fill-opacity="0.65"/><rect x="330.5" y="620.5" width="1.15" height="1.15" fill="#3a3a3a" fill-opacity="0.59"/><rect x="328.3" y="626.0" width="1.15" height="1.15" fill="#3a3a3a" fill-opacity="0.64"/><rect x="322.1" y="619.2" width="1.15" height="1.15" fill="#3a3a3a" fill-opacity="0.35"/><rect x="331.3" y="621.3" width="1.15" height="1.15" fill="#3a3a3a" fill-opacity="0.38"/><rect x="330.3" y="624.3" width="1.15" height="1.15" fill="#3a3a3a" fill-opacity="0.51"/><rect x="332.1" y="628.8" width="1.15" height="1.15" fill="#3a3a3a" fill-opacity="0.55"/><rect x="320.5" y="629.6" width="1.15" height="1.15" fill="#3a3a3a" fill-opacity="0.52"/><rect x="336.0" y="617.5" width="1.15" height="1.15" fill="#3a3a3a" fill-opacity="0.62"/><rect x="333.3" y="620.6" width="1.15" height="1.15" fill="#3a3a3a" fill-opacity="0.56"/><rect x="325.8" y="632.8" width="1.15" height="1.15" fill="#3a3a3a" fill-opacity="0.54"/><rect x="332.3" y="620.5" width="1.15" height="1.15" fill="#3a3a3a" fill-opacity="0.43"/><rect x="330.7" y="621.6" width="1.15" height="1.15" fill="#3a3a3a" fill-opacity="0.51"/><rect x="336.7" y="628.3" width="1.15" height="1.15" fill="#3a3a3a" fill-opacity="0.58"/><rect x="340.7" y="633.2" width="1.15" height="1.15" fill="#3a3a3a" fill-opacity="0.54"/><rect x="330.9" y="627.8" width="1.15" height="1.15" fill="#3a3a3a" fill-opacity="0.46"/><rect x="334.9" y="616.2" width="1.15" height="1.15" fill="#3a3a3a" fill-opacity="0.34"/><rect x="333.7" y="623.9" width="1.15" height="1.15" fill="#3a3a3a" fill-opacity="0.58"/><rect x="333.8" y="631.1" width="1.15" height="1.15" fill="#3a3a3a" fill-opacity="0.40"/><rect x="328.9" y="617.6" width="1.15" height="1.15" fill="#3a3a3a" fill-opacity="0.35"/><rect x="335.9" y="617.8" width="1.15" height="1.15" fill="#3a3a3a" fill-opacity="0.54"/><rect x="336.1" y="624.0" width="1.15" height="1.15" fill="#3a3a3a" fill-opacity="0.35"/><rect x="319.6" y="623.4" width="1.15" height="1.15" fill="#3a3a3a" fill-opacity="0.58"/><rect x="334.5" y="624.4" width="1.15" height="1.15" fill="#3a3a3a" fill-opacity="0.59"/><rect x="328.6" y="617.6" width="1.15" height="1.15" fill="#3a3a3a" fill-opacity="0.47"/><rect x="336.9" y="634.0" width="1.15" height="1.15" fill="#3a3a3a" fill-opacity="0.44"/><rect x="336.4" y="617.1" width="1.15" height="1.15" fill="#3a3a3a" fill-opacity="0.33"/><rect x="329.1" y="627.5" width="1.15" height="1.15" fill="#3a3a3a" fill-opacity="0.61"/><rect x="329.6" y="622.5" width="1.15" height="1.15" fill="#3a3a3a" fill-opacity="0.36"/><rect x="327.0" y="629.1" width="1.15" height="1.15" fill="#3a3a3a" fill-opacity="0.50"/><rect x="327.0" y="627.4" width="1.15" height="1.15" fill="#3a3a3a" fill-opacity="0.30"/><rect x="326.6" y="620.7" width="1.15" height="1.15" fill="#3a3a3a" fill-opacity="0.31"/><rect x="334.0" y="624.5" width="1.15" height="1.15" fill="#3a3a3a" fill-opacity="0.53"/><rect x="330.4" y="628.6" width="1.15" height="1.15" fill="#3a3a3a" fill-opacity="0.48"/><rect x="330.4" y="631.9" width="1.15" height="1.15" fill="#3a3a3a" fill-opacity="0.48"/><rect x="338.0" y="625.3" width="1.15" height="1.15" fill="#3a3a3a" fill-opacity="0.57"/><rect x="337.7" y="615.4" width="1.15" height="1.15" fill="#3a3a3a" fill-opacity="0.52"/><rect x="327.5" y="618.9" width="1.15" height="1.15" fill="#3a3a3a" fill-opacity="0.40"/><rect x="334.2" y="610.8" width="1.15" height="1.15" fill="#3a3a3a" fill-opacity="0.63"/><rect x="329.0" y="618.5" width="1.15" height="1.15" fill="#3a3a3a" fill-opacity="0.57"/><rect x="330.6" y="615.8" width="1.15" height="1.15" fill="#3a3a3a" fill-opacity="0.52"/><rect x="326.8" y="630.1" width="1.15" height="1.15" fill="#3a3a3a" fill-opacity="0.44"/><rect x="335.7" y="625.7" width="1.15" height="1.15" fill="#3a3a3a" fill-opacity="0.41"/><rect x="337.4" y="623.0" width="1.15" height="1.15" fill="#3a3a3a" fill-opacity="0.43"/><rect x="331.2" y="628.3" width="1.15" height="1.15" fill="#3a3a3a" fill-opacity="0.42"/><rect x="331.4" y="624.1" width="1.15" height="1.15" fill="#3a3a3a" fill-opacity="0.60"/><rect x="325.2" y="625.5" width="1.15" height="1.15" fill="#3a3a3a" fill-opacity="0.50"/><rect x="329.9" y="627.2" width="1.15" height="1.15" fill="#3a3a3a" fill-opacity="0.32"/><rect x="329.5" y="628.8" width="1.15" height="1.15" fill="#3a3a3a" fill-opacity="0.55"/><rect x="324.2" y="635.8" width="1.15" height="1.15" fill="#3a3a3a" fill-opacity="0.50"/><rect x="334.1" y="625.5" width="1.15" height="1.15" fill="#3a3a3a" fill-opacity="0.50"/><rect x="336.2" y="623.0" width="1.15" height="1.15" fill="#3a3a3a" fill-opacity="0.57"/><rect x="320.8" y="629.2" width="1.15" height="1.15" fill="#3a3a3a" fill-opacity="0.32"/><rect x="319.1" y="624.9" width="1.15" height="1.15" fill="#3a3a3a" fill-opacity="0.40"/><rect x="330.9" y="624.9" width="1.15" height="1.15" fill="#3a3a3a" fill-opacity="0.36"/><rect x="330.0" y="633.6" width="1.15" height="1.15" fill="#3a3a3a" fill-opacity="0.38"/><rect x="328.0" y="626.1" width="1.15" height="1.15" fill="#3a3a3a" fill-opacity="0.51"/><rect x="336.3" y="616.4" width="1.15" height="1.15" fill="#3a3a3a" fill-opacity="0.37"/><rect x="329.2" y="621.9" width="1.15" height="1.15" fill="#3a3a3a" fill-opacity="0.58"/><rect x="334.6" y="619.3" width="1.15" height="1.15" fill="#3a3a3a" fill-opacity="0.35"/><rect x="333.6" y="631.0" width="1.15" height="1.15" fill="#3a3a3a" fill-opacity="0.61"/><rect x="322.9" y="612.2" width="1.15" height="1.15" fill="#3a3a3a" fill-opacity="0.37"/><rect x="326.7" y="633.1" width="1.15" height="1.15" fill="#3a3a3a" fill-opacity="0.53"/><rect x="324.0" y="629.0" width="1.15" height="1.15" fill="#3a3a3a" fill-opacity="0.42"/><rect x="336.4" y="625.9" width="1.15" height="1.15" fill="#3a3a3a" fill-opacity="0.32"/><rect x="327.5" y="619.3" width="1.15" height="1.15" fill="#3a3a3a" fill-opacity="0.47"/><rect x="327.5" y="620.6" width="1.15" height="1.15" fill="#3a3a3a" fill-opacity="0.46"/><rect x="338.3" y="626.6" width="1.15" height="1.15" fill="#3a3a3a" fill-opacity="0.55"/><rect x="329.8" y="626.0" width="1.15" height="1.15" fill="#3a3a3a" fill-opacity="0.35"/><rect x="337.0" y="632.2" width="1.15" height="1.15" fill="#3a3a3a" fill-opacity="0.33"/><rect x="333.3" y="617.2" width="1.15" height="1.15" fill="#3a3a3a" fill-opacity="0.49"/><rect x="324.9" y="619.1" width="1.15" height="1.15" fill="#3a3a3a" fill-opacity="0.53"/><rect x="327.0" y="620.0" width="1.15" height="1.15" fill="#3a3a3a" fill-opacity="0.56"/><rect x="330.6" y="633.7" width="1.15" height="1.15" fill="#3a3a3a" fill-opacity="0.57"/><rect x="331.8" y="618.0" width="1.15" height="1.15" fill="#3a3a3a" fill-opacity="0.57"/><rect x="337.1" y="622.5" width="1.15" height="1.15" fill="#3a3a3a" fill-opacity="0.40"/><rect x="331.5" y="624.1" width="1.15" height="1.15" fill="#3a3a3a" fill-opacity="0.47"/><rect x="325.6" y="614.2" width="1.15" height="1.15" fill="#3a3a3a" fill-opacity="0.43"/><rect x="335.0" y="623.2" width="1.15" height="1.15" fill="#3a3a3a" fill-opacity="0.56"/><rect x="332.1" y="624.3" width="1.15" height="1.15" fill="#3a3a3a" fill-opacity="0.35"/><rect x="337.1" y="626.3" width="1.15" height="1.15" fill="#3a3a3a" fill-opacity="0.49"/><rect x="328.9" y="626.3" width="1.15" height="1.15" fill="#3a3a3a" fill-opacity="0.36"/><rect x="331.7" y="624.8" width="1.15" height="1.15" fill="#3a3a3a" fill-opacity="0.57"/><rect x="323.0" y="623.6" width="1.15" height="1.15" fill="#3a3a3a" fill-opacity="0.42"/><rect x="332.9" y="616.6" width="1.15" height="1.15" fill="#3a3a3a" fill-opacity="0.41"/><rect x="333.2" y="621.7" width="1.15" height="1.15" fill="#3a3a3a" fill-opacity="0.56"/><rect x="338.4" y="627.2" width="1.15" height="1.15" fill="#3a3a3a" fill-opacity="0.44"/><rect x="332.3" y="621.8" width="1.15" height="1.15" fill="#3a3a3a" fill-opacity="0.50"/><rect x="320.4" y="631.3" width="1.15" height="1.15" fill="#3a3a3a" fill-opacity="0.63"/><rect x="328.2" y="620.2" width="1.15" height="1.15" fill="#3a3a3a" fill-opacity="0.39"/><rect x="330.5" y="630.4" width="1.15" height="1.15" fill="#3a3a3a" fill-opacity="0.38"/><rect x="333.7" y="634.0" width="1.15" height="1.15" fill="#3a3a3a" fill-opacity="0.52"/><rect x="332.5" y="631.8" width="1.15" height="1.15" fill="#3a3a3a" fill-opacity="0.35"/><rect x="338.4" y="613.6" width="1.15" height="1.15" fill="#3a3a3a" fill-opacity="0.39"/><rect x="331.1" y="611.4" width="1.15" height="1.15" fill="#3a3a3a" fill-opacity="0.40"/><rect x="327.8" y="630.0" width="1.15" height="1.15" fill="#3a3a3a" fill-opacity="0.61"/><rect x="335.5" y="631.9" width="1.15" height="1.15" fill="#3a3a3a" fill-opacity="0.51"/><rect x="323.9" y="626.0" width="1.15" height="1.15" fill="#3a3a3a" fill-opacity="0.61"/><rect x="333.9" y="636.6" width="1.15" height="1.15" fill="#3a3a3a" fill-opacity="0.43"/><rect x="333.1" y="610.8" width="1.15" height="1.15" fill="#3a3a3a" fill-opacity="0.36"/><rect x="330.6" y="624.9" width="1.15" height="1.15" fill="#3a3a3a" fill-opacity="0.34"/><rect x="331.8" y="623.4" width="1.15" height="1.15" fill="#3a3a3a" fill-opacity="0.62"/><rect x="336.3" y="632.1" width="1.15" height="1.15" fill="#3a3a3a" fill-opacity="0.33"/><rect x="335.1" y="632.1" width="1.15" height="1.15" fill="#3a3a3a" fill-opacity="0.33"/><rect x="324.3" y="635.8" width="1.15" height="1.15" fill="#3a3a3a" fill-opacity="0.55"/><rect x="335.0" y="624.5" width="1.15" height="1.15" fill="#3a3a3a" fill-opacity="0.58"/><rect x="330.4" y="621.8" width="1.15" height="1.15" fill="#3a3a3a" fill-opacity="0.48"/><rect x="360.9" y="630.2" width="1.15" height="1.15" fill="#3a3a3a" fill-opacity="0.34"/><rect x="353.7" y="634.7" width="1.15" height="1.15" fill="#3a3a3a" fill-opacity="0.34"/><rect x="355.9" y="624.6" width="1.15" height="1.15" fill="#3a3a3a" fill-opacity="0.45"/><rect x="365.0" y="631.9" width="1.15" height="1.15" fill="#3a3a3a" fill-opacity="0.35"/><rect x="359.3" y="617.9" width="1.15" height="1.15" fill="#3a3a3a" fill-opacity="0.34"/><rect x="354.6" y="629.5" width="1.15" height="1.15" fill="#3a3a3a" fill-opacity="0.62"/><rect x="356.9" y="627.5" width="1.15" height="1.15" fill="#3a3a3a" fill-opacity="0.64"/><rect x="369.1" y="618.4" width="1.15" height="1.15" fill="#3a3a3a" fill-opacity="0.40"/><rect x="362.6" y="628.3" width="1.15" height="1.15" fill="#3a3a3a" fill-opacity="0.32"/><rect x="368.7" y="626.2" width="1.15" height="1.15" fill="#3a3a3a" fill-opacity="0.44"/><rect x="353.2" y="622.6" width="1.15" height="1.15" fill="#3a3a3a" fill-opacity="0.30"/><rect x="355.8" y="617.0" width="1.15" height="1.15" fill="#3a3a3a" fill-opacity="0.49"/><rect x="348.9" y="621.9" width="1.15" height="1.15" fill="#3a3a3a" fill-opacity="0.64"/><rect x="368.5" y="618.2" width="1.15" height="1.15" fill="#3a3a3a" fill-opacity="0.44"/><rect x="356.7" y="629.6" width="1.15" height="1.15" fill="#3a3a3a" fill-opacity="0.64"/><rect x="354.3" y="627.9" width="1.15" height="1.15" fill="#3a3a3a" fill-opacity="0.44"/><rect x="370.4" y="624.6" width="1.15" height="1.15" fill="#3a3a3a" fill-opacity="0.62"/><rect x="359.7" y="632.0" width="1.15" height="1.15" fill="#3a3a3a" fill-opacity="0.43"/><rect x="360.3" y="628.1" width="1.15" height="1.15" fill="#3a3a3a" fill-opacity="0.34"/><rect x="367.3" y="616.4" width="1.15" height="1.15" fill="#3a3a3a" fill-opacity="0.62"/><rect x="371.1" y="627.0" width="1.15" height="1.15" fill="#3a3a3a" fill-opacity="0.41"/><rect x="354.2" y="618.9" width="1.15" height="1.15" fill="#3a3a3a" fill-opacity="0.41"/><rect x="360.3" y="624.4" width="1.15" height="1.15" fill="#3a3a3a" fill-opacity="0.56"/><rect x="365.5" y="619.2" width="1.15" height="1.15" fill="#3a3a3a" fill-opacity="0.51"/><rect x="365.6" y="624.3" width="1.15" height="1.15" fill="#3a3a3a" fill-opacity="0.52"/><rect x="359.7" y="619.0" width="1.15" height="1.15" fill="#3a3a3a" fill-opacity="0.55"/><rect x="352.7" y="628.6" width="1.15" height="1.15" fill="#3a3a3a" fill-opacity="0.51"/><rect x="357.0" y="620.0" width="1.15" height="1.15" fill="#3a3a3a" fill-opacity="0.52"/><rect x="354.8" y="623.4" width="1.15" height="1.15" fill="#3a3a3a" fill-opacity="0.51"/><rect x="358.4" y="636.4" width="1.15" height="1.15" fill="#3a3a3a" fill-opacity="0.47"/><rect x="358.4" y="617.8" width="1.15" height="1.15" fill="#3a3a3a" fill-opacity="0.47"/><rect x="360.8" y="627.4" width="1.15" height="1.15" fill="#3a3a3a" fill-opacity="0.62"/><rect x="350.9" y="623.2" width="1.15" height="1.15" fill="#3a3a3a" fill-opacity="0.48"/><rect x="362.2" y="620.7" width="1.15" height="1.15" fill="#3a3a3a" fill-opacity="0.36"/><rect x="363.7" y="618.9" width="1.15" height="1.15" fill="#3a3a3a" fill-opacity="0.52"/><rect x="367.5" y="614.1" width="1.15" height="1.15" fill="#3a3a3a" fill-opacity="0.60"/><rect x="367.2" y="625.8" width="1.15" height="1.15" fill="#3a3a3a" fill-opacity="0.59"/><rect x="361.6" y="621.8" width="1.15" height="1.15" fill="#3a3a3a" fill-opacity="0.35"/><rect x="360.0" y="627.0" width="1.15" height="1.15" fill="#3a3a3a" fill-opacity="0.42"/><rect x="363.0" y="618.1" width="1.15" height="1.15" fill="#3a3a3a" fill-opacity="0.46"/><rect x="366.5" y="627.3" width="1.15" height="1.15" fill="#3a3a3a" fill-opacity="0.65"/><rect x="357.2" y="618.7" width="1.15" height="1.15" fill="#3a3a3a" fill-opacity="0.47"/><rect x="363.8" y="615.5" width="1.15" height="1.15" fill="#3a3a3a" fill-opacity="0.35"/><rect x="356.9" y="619.6" width="1.15" height="1.15" fill="#3a3a3a" fill-opacity="0.48"/><rect x="360.6" y="629.7" width="1.15" height="1.15" fill="#3a3a3a" fill-opacity="0.42"/><rect x="358.9" y="625.1" width="1.15" height="1.15" fill="#3a3a3a" fill-opacity="0.37"/><rect x="357.6" y="623.6" width="1.15" height="1.15" fill="#3a3a3a" fill-opacity="0.36"/><rect x="358.8" y="620.1" width="1.15" height="1.15" fill="#3a3a3a" fill-opacity="0.41"/><rect x="360.7" y="634.8" width="1.15" height="1.15" fill="#3a3a3a" fill-opacity="0.33"/><rect x="350.1" y="616.2" width="1.15" height="1.15" fill="#3a3a3a" fill-opacity="0.37"/><rect x="348.1" y="628.9" width="1.15" height="1.15" fill="#3a3a3a" fill-opacity="0.52"/><rect x="358.4" y="625.6" width="1.15" height="1.15" fill="#3a3a3a" fill-opacity="0.45"/><rect x="351.9" y="630.8" width="1.15" height="1.15" fill="#3a3a3a" fill-opacity="0.40"/><rect x="350.8" y="628.7" width="1.15" height="1.15" fill="#3a3a3a" fill-opacity="0.58"/><rect x="355.5" y="628.7" width="1.15" height="1.15" fill="#3a3a3a" fill-opacity="0.50"/><rect x="364.4" y="622.8" width="1.15" height="1.15" fill="#3a3a3a" fill-opacity="0.64"/><rect x="358.3" y="619.2" width="1.15" height="1.15" fill="#3a3a3a" fill-opacity="0.53"/><rect x="358.6" y="626.3" width="1.15" height="1.15" fill="#3a3a3a" fill-opacity="0.56"/><rect x="353.3" y="629.0" width="1.15" height="1.15" fill="#3a3a3a" fill-opacity="0.47"/><rect x="370.4" y="619.0" width="1.15" height="1.15" fill="#3a3a3a" fill-opacity="0.31"/><rect x="352.9" y="621.0" width="1.15" height="1.15" fill="#3a3a3a" fill-opacity="0.46"/><rect x="364.2" y="619.6" width="1.15" height="1.15" fill="#3a3a3a" fill-opacity="0.47"/><rect x="366.3" y="620.6" width="1.15" height="1.15" fill="#3a3a3a" fill-opacity="0.47"/><rect x="345.9" y="623.6" width="1.15" height="1.15" fill="#3a3a3a" fill-opacity="0.53"/><rect x="359.5" y="618.8" width="1.15" height="1.15" fill="#3a3a3a" fill-opacity="0.31"/><rect x="355.9" y="618.1" width="1.15" height="1.15" fill="#3a3a3a" fill-opacity="0.57"/><rect x="360.5" y="621.7" width="1.15" height="1.15" fill="#3a3a3a" fill-opacity="0.38"/><rect x="372.4" y="629.1" width="1.15" height="1.15" fill="#3a3a3a" fill-opacity="0.34"/><rect x="370.8" y="629.2" width="1.15" height="1.15" fill="#3a3a3a" fill-opacity="0.50"/><rect x="370.8" y="627.2" width="1.15" height="1.15" fill="#3a3a3a" fill-opacity="0.55"/><rect x="357.5" y="624.6" width="1.15" height="1.15" fill="#3a3a3a" fill-opacity="0.54"/><rect x="351.2" y="628.0" width="1.15" height="1.15" fill="#3a3a3a" fill-opacity="0.65"/><rect x="366.3" y="614.2" width="1.15" height="1.15" fill="#3a3a3a" fill-opacity="0.35"/><rect x="355.4" y="630.1" width="1.15" height="1.15" fill="#3a3a3a" fill-opacity="0.30"/><rect x="366.1" y="624.1" width="1.15" height="1.15" fill="#3a3a3a" fill-opacity="0.39"/><rect x="357.7" y="628.3" width="1.15" height="1.15" fill="#3a3a3a" fill-opacity="0.60"/><rect x="351.5" y="622.1" width="1.15" height="1.15" fill="#3a3a3a" fill-opacity="0.45"/><rect x="366.1" y="625.9" width="1.15" height="1.15" fill="#3a3a3a" fill-opacity="0.60"/><rect x="364.8" y="614.1" width="1.15" height="1.15" fill="#3a3a3a" fill-opacity="0.39"/><rect x="360.7" y="626.1" width="1.15" height="1.15" fill="#3a3a3a" fill-opacity="0.49"/><rect x="354.0" y="628.8" width="1.15" height="1.15" fill="#3a3a3a" fill-opacity="0.47"/><rect x="353.7" y="621.8" width="1.15" height="1.15" fill="#3a3a3a" fill-opacity="0.58"/><rect x="365.2" y="636.1" width="1.15" height="1.15" fill="#3a3a3a" fill-opacity="0.49"/><rect x="366.3" y="625.9" width="1.15" height="1.15" fill="#3a3a3a" fill-opacity="0.49"/><rect x="351.8" y="628.2" width="1.15" height="1.15" fill="#3a3a3a" fill-opacity="0.41"/><rect x="358.0" y="634.1" width="1.15" height="1.15" fill="#3a3a3a" fill-opacity="0.40"/><rect x="356.6" y="614.8" width="1.15" height="1.15" fill="#3a3a3a" fill-opacity="0.51"/><rect x="367.6" y="626.5" width="1.15" height="1.15" fill="#3a3a3a" fill-opacity="0.52"/><rect x="374.4" y="627.7" width="1.15" height="1.15" fill="#3a3a3a" fill-opacity="0.33"/><rect x="356.1" y="622.4" width="1.15" height="1.15" fill="#3a3a3a" fill-opacity="0.62"/><rect x="347.3" y="620.7" width="1.15" height="1.15" fill="#3a3a3a" fill-opacity="0.47"/><rect x="354.8" y="617.1" width="1.15" height="1.15" fill="#3a3a3a" fill-opacity="0.40"/><rect x="363.5" y="634.6" width="1.15" height="1.15" fill="#3a3a3a" fill-opacity="0.35"/><rect x="364.5" y="622.6" width="1.15" height="1.15" fill="#3a3a3a" fill-opacity="0.34"/><rect x="371.0" y="629.8" width="1.15" height="1.15" fill="#3a3a3a" fill-opacity="0.63"/><rect x="350.4" y="628.5" width="1.15" height="1.15" fill="#3a3a3a" fill-opacity="0.39"/><rect x="369.6" y="619.7" width="1.15" height="1.15" fill="#3a3a3a" fill-opacity="0.35"/><rect x="371.0" y="627.4" width="1.15" height="1.15" fill="#3a3a3a" fill-opacity="0.31"/><rect x="363.3" y="620.5" width="1.15" height="1.15" fill="#3a3a3a" fill-opacity="0.38"/><rect x="354.2" y="622.0" width="1.15" height="1.15" fill="#3a3a3a" fill-opacity="0.50"/><rect x="369.5" y="634.4" width="1.15" height="1.15" fill="#3a3a3a" fill-opacity="0.41"/><rect x="362.4" y="621.7" width="1.15" height="1.15" fill="#3a3a3a" fill-opacity="0.58"/><rect x="367.5" y="623.7" width="1.15" height="1.15" fill="#3a3a3a" fill-opacity="0.31"/><rect x="352.1" y="629.8" width="1.15" height="1.15" fill="#3a3a3a" fill-opacity="0.38"/><rect x="356.8" y="623.7" width="1.15" height="1.15" fill="#3a3a3a" fill-opacity="0.46"/><rect x="358.9" y="618.6" width="1.15" height="1.15" fill="#3a3a3a" fill-opacity="0.54"/><rect x="370.7" y="631.2" width="1.15" height="1.15" fill="#3a3a3a" fill-opacity="0.34"/><rect x="368.6" y="621.9" width="1.15" height="1.15" fill="#3a3a3a" fill-opacity="0.40"/><rect x="352.7" y="631.9" width="1.15" height="1.15" fill="#3a3a3a" fill-opacity="0.47"/><rect x="363.0" y="623.4" width="1.15" height="1.15" fill="#3a3a3a" fill-opacity="0.47"/><rect x="366.7" y="618.8" width="1.15" height="1.15" fill="#3a3a3a" fill-opacity="0.49"/><rect x="363.5" y="626.0" width="1.15" height="1.15" fill="#3a3a3a" fill-opacity="0.39"/><rect x="371.5" y="617.8" width="1.15" height="1.15" fill="#3a3a3a" fill-opacity="0.38"/><rect x="361.7" y="623.8" width="1.15" height="1.15" fill="#3a3a3a" fill-opacity="0.51"/><rect x="366.8" y="623.4" width="1.15" height="1.15" fill="#3a3a3a" fill-opacity="0.63"/><rect x="358.7" y="622.9" width="1.15" height="1.15" fill="#3a3a3a" fill-opacity="0.42"/><rect x="354.6" y="625.7" width="1.15" height="1.15" fill="#3a3a3a" fill-opacity="0.56"/><rect x="365.8" y="633.1" width="1.15" height="1.15" fill="#3a3a3a" fill-opacity="0.40"/><rect x="368.8" y="627.4" width="1.15" height="1.15" fill="#3a3a3a" fill-opacity="0.33"/><rect x="347.3" y="621.3" width="1.15" height="1.15" fill="#3a3a3a" fill-opacity="0.51"/><rect x="358.1" y="624.7" width="1.15" height="1.15" fill="#3a3a3a" fill-opacity="0.48"/><rect x="369.0" y="629.0" width="1.15" height="1.15" fill="#3a3a3a" fill-opacity="0.35"/><rect x="353.7" y="622.0" width="1.15" height="1.15" fill="#3a3a3a" fill-opacity="0.43"/><rect x="357.6" y="621.6" width="1.15" height="1.15" fill="#3a3a3a" fill-opacity="0.36"/><rect x="366.4" y="622.6" width="1.15" height="1.15" fill="#3a3a3a" fill-opacity="0.59"/><rect x="346.3" y="597.5" width="1.15" height="1.15" fill="#3a3a3a" fill-opacity="0.45"/><rect x="364.5" y="604.5" width="1.15" height="1.15" fill="#3a3a3a" fill-opacity="0.30"/><rect x="341.0" y="541.0" width="1.15" height="1.15" fill="#3a3a3a" fill-opacity="0.20"/></g>
</svg>
</body></html>
